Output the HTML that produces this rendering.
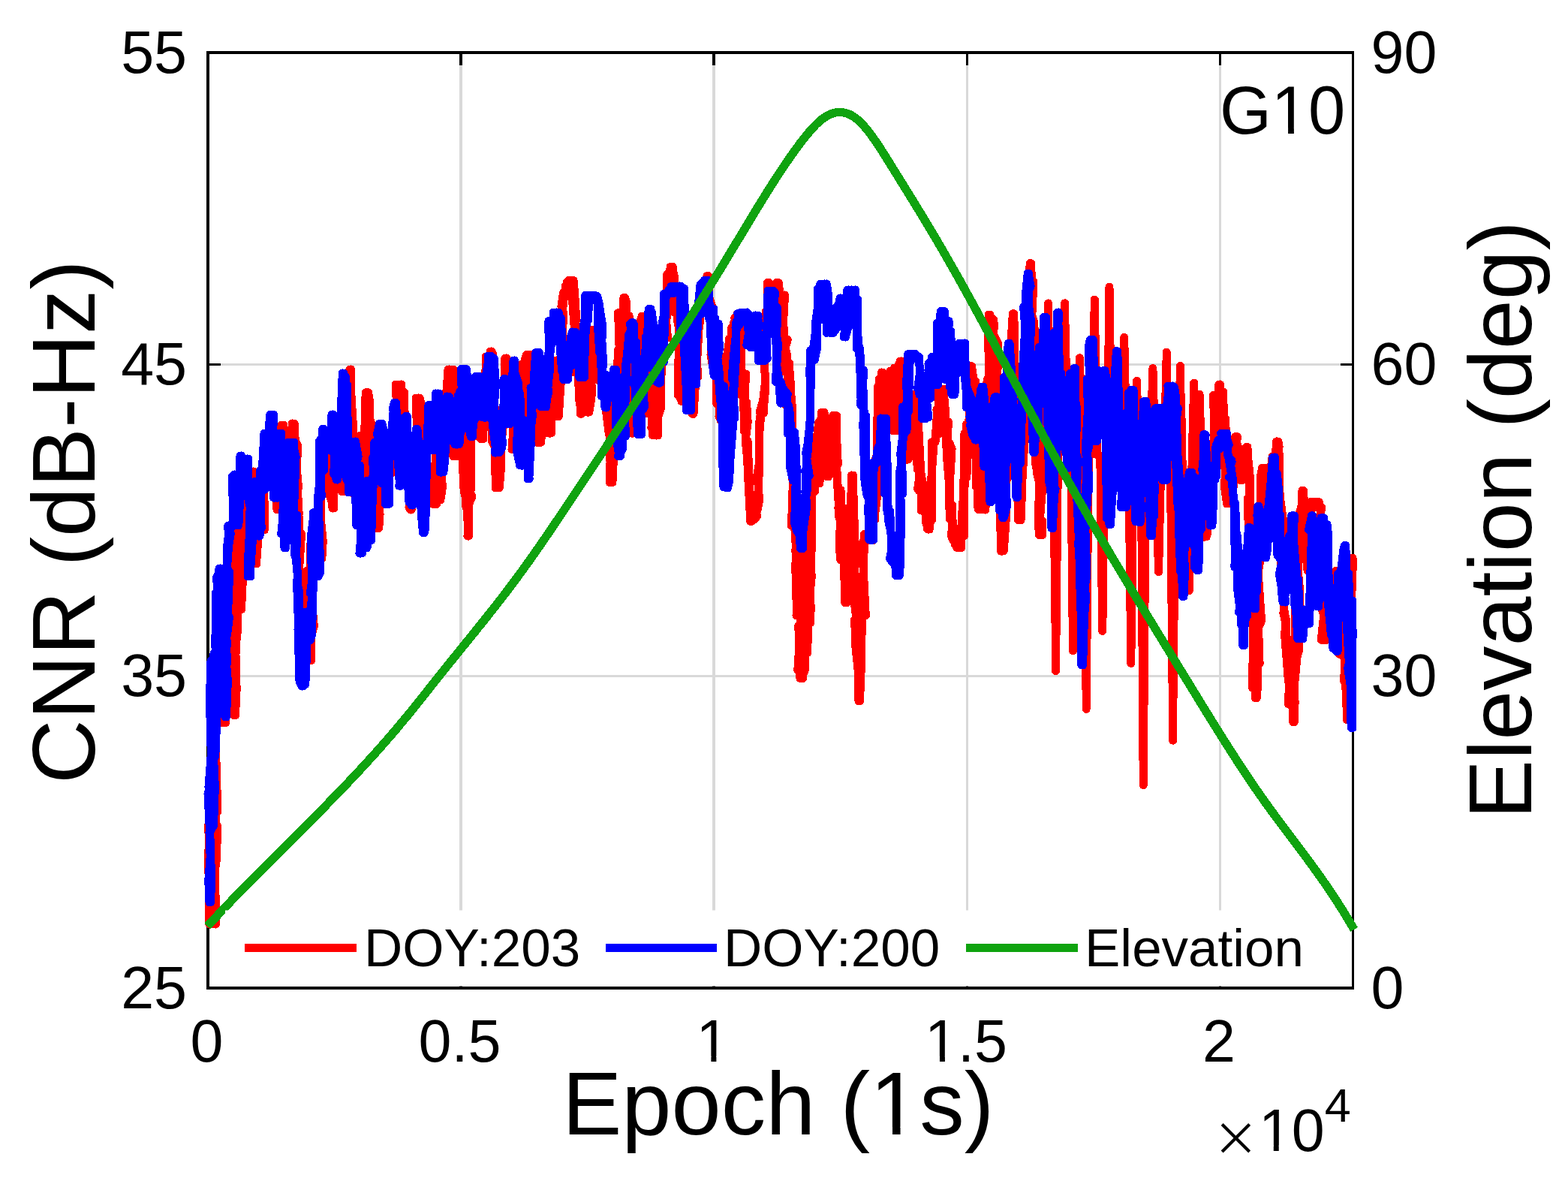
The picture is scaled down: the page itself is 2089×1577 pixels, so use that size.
<!DOCTYPE html>
<html><head><meta charset="utf-8"><title>CNR vs Epoch G10</title>
<style>
html,body{margin:0;padding:0;background:#fff;}
body{width:2089px;height:1577px;overflow:hidden;}
svg{display:block;}
text{font-family:'Liberation Sans', Arial, Helvetica, sans-serif;fill:#000;}
</style></head><body>
<svg width="2089" height="1577" viewBox="0 0 2089 1577">
<rect x="0" y="0" width="2089" height="1577" fill="#fff"/>

<g fill="#d9d9d9" shape-rendering="crispEdges">
<rect x="612" y="70.0" width="4" height="1246.0"/>
<rect x="949" y="70.0" width="4" height="1246.0"/>
<rect x="1287" y="70.0" width="3" height="1246.0"/>
<rect x="1624" y="70.0" width="3" height="1246.0"/>
<rect x="277.0" y="484" width="1525.5" height="3"/>
<rect x="277.0" y="899" width="1525.5" height="3"/>
</g>
<g fill="#000" shape-rendering="crispEdges">
<rect x="275" y="68" width="4" height="1250"/>
<rect x="1801" y="68" width="3" height="1250"/>
<rect x="275" y="68" width="1529" height="4"/>
<rect x="275" y="1314" width="1529" height="4"/>
<rect x="279" y="484" width="15" height="3"/>
<rect x="1786" y="484" width="15" height="3"/>
<rect x="279" y="899" width="15" height="3"/>
<rect x="1786" y="899" width="15" height="3"/>
<rect x="612" y="72" width="4" height="15"/>
<rect x="612" y="1299" width="4" height="15"/>
<rect x="949" y="72" width="4" height="15"/>
<rect x="949" y="1299" width="4" height="15"/>
<rect x="1287" y="72" width="3" height="15"/>
<rect x="1287" y="1299" width="3" height="15"/>
<rect x="1624" y="72" width="3" height="15"/>
<rect x="1624" y="1299" width="3" height="15"/>
</g>
<path d="M277.0,1100.0 L279.9,1127.4 L280.9,1110.4 L278.3,1156.4 L278.9,1231.0 L280.0,1231.0 L278.9,1208.4 L280.6,1201.6 L282.3,1136.3 L280.6,1105.9 L280.6,1060.5 L280.0,1043.2 L280.3,1082.3 L284.7,1025.6 L283.4,1056.3 L281.1,980.8 L284.6,922.1 L281.7,926.4 L283.0,900.0 L284.0,932.5 L285.3,960.5 L283.8,926.9 L281.3,997.0 L286.3,1044.0 L282.9,1063.7 L284.7,1118.3 L286.4,1105.0 L287.0,1087.6 L286.9,1174.3 L286.8,1153.9 L284.6,1187.9 L286.0,1231.0 L287.2,1224.0 L286.2,1208.6 L283.8,1128.2 L287.9,1142.2 L285.4,1138.1 L287.7,1038.4 L289.8,1081.5 L287.0,977.8 L286.8,1039.1 L284.6,976.6 L289.8,957.4 L289.3,939.6 L287.1,895.3 L288.0,860.0 L287.4,910.0 L287.4,942.5 L289.1,960.0 L292.0,960.0 L291.7,924.1 L290.9,931.1 L290.3,870.6 L293.2,829.1 L294.9,784.9 L295.5,796.0 L295.0,780.0 L295.3,818.7 L296.9,875.6 L295.8,895.0 L295.5,889.7 L296.3,963.0 L296.7,917.1 L299.0,963.0 L300.4,919.4 L297.6,934.4 L299.7,872.3 L300.2,881.0 L302.9,846.3 L300.5,836.1 L301.1,781.5 L302.0,760.0 L301.3,760.0 L302.5,790.5 L304.9,821.9 L306.6,900.0 L306.0,900.0 L307.4,896.9 L309.1,860.9 L307.1,847.4 L307.4,750.1 L305.7,741.1 L309.9,750.7 L309.7,709.6 L309.0,700.0 L308.1,727.0 L309.1,796.7 L312.0,751.7 L311.6,756.9 L309.9,789.7 L312.8,820.2 L313.9,864.1 L312.4,914.8 L311.1,929.1 L312.0,953.0 L313.6,921.5 L314.7,875.9 L312.0,906.2 L312.3,868.7 L313.3,812.8 L313.5,744.5 L312.5,831.9 L313.7,780.3 L316.6,693.2 L313.6,657.4 L314.0,705.0 L315.0,650.0 L316.3,708.1 L317.4,740.1 L319.1,714.8 L318.0,702.1 L319.1,773.6 L320.0,812.0 L319.6,750.1 L321.0,762.0 L323.1,760.4 L324.7,740.0 L323.2,677.7 L325.0,640.0 L324.9,666.7 L330.2,640.0 L330.2,678.5 L330.4,689.5 L331.0,700.0 L330.5,649.8 L333.9,676.7 L337.3,628.0 L336.0,628.0 L337.1,628.0 L339.3,647.5 L336.9,695.2 L340.0,751.0 L339.4,676.7 L342.7,662.2 L346.4,662.7 L345.0,640.0 L348.1,685.6 L349.9,684.6 L346.6,706.0 L350.7,706.0 L351.2,636.2 L353.9,602.3 L353.3,593.4 L356.0,590.0 L355.2,590.0 L359.3,598.1 L356.8,597.8 L361.7,597.0 L362.0,600.0 L362.8,600.0 L362.3,600.0 L365.7,625.0 L369.5,660.8 L369.0,679.0 L368.1,645.0 L368.9,677.1 L375.5,577.9 L373.0,631.5 L374.7,566.0 L376.5,566.0 L380.0,573.1 L376.7,596.9 L381.3,640.0 L382.0,640.0 L381.6,605.2 L382.3,612.1 L386.8,612.1 L389.3,564.0 L390.7,593.2 L390.2,564.0 L392.5,599.3 L389.7,578.3 L396.4,593.3 L395.0,650.0 L397.9,688.0 L398.2,682.2 L395.5,673.7 L398.6,723.7 L399.2,780.1 L400.0,800.0 L401.7,810.6 L402.2,858.9 L401.2,860.0 L405.0,860.0 L406.3,824.3 L405.5,821.8 L410.5,775.6 L409.0,760.0 L410.5,806.4 L408.3,769.6 L409.9,818.2 L413.0,880.0 L411.7,880.0 L411.8,812.7 L412.4,819.4 L413.3,726.2 L417.0,724.5 L416.3,750.6 L418.0,700.0 L421.3,702.6 L418.6,749.6 L424.2,766.0 L423.7,766.0 L425.3,709.6 L424.3,674.9 L427.0,682.3 L428.1,652.9 L430.2,602.1 L430.0,600.0 L433.5,594.8 L431.6,596.3 L434.1,590.0 L436.2,590.2 L437.0,590.0 L436.0,607.3 L436.9,653.5 L442.8,670.5 L443.0,677.0 L443.5,677.0 L444.5,611.2 L447.0,611.6 L448.6,576.5 L449.0,560.0 L449.6,560.0 L451.2,602.0 L455.8,581.7 L456.0,651.0 L455.7,655.0 L458.8,615.9 L460.3,641.9 L458.1,544.3 L459.7,543.7 L460.0,530.0 L459.2,513.5 L463.2,513.8 L466.5,502.3 L463.8,496.3 L466.0,492.0 L467.2,545.8 L467.3,521.7 L472.7,629.4 L469.9,622.1 L470.9,658.0 L474.1,646.8 L475.2,689.5 L476.0,668.1 L476.1,689.5 L476.2,657.3 L478.5,580.7 L482.8,671.7 L480.0,641.9 L483.6,604.8 L486.5,558.4 L486.6,535.0 L487.4,522.9 L489.0,522.7 L489.1,543.0 L491.0,536.7 L494.4,573.7 L494.2,611.9 L493.2,656.7 L495.6,584.5 L497.7,606.4 L496.7,674.6 L500.0,699.7 L501.0,703.5 L503.7,687.4 L502.0,703.5 L507.2,635.3 L507.4,622.8 L506.3,627.0 L510.9,639.9 L507.7,600.0 L510.4,624.8 L512.0,600.0 L514.8,600.0 L515.5,600.0 L517.2,624.5 L518.1,618.7 L516.6,624.9 L521.0,621.7 L522.8,629.0 L519.6,629.0 L522.7,623.7 L524.0,629.0 L525.0,629.0 L523.7,568.9 L529.5,554.9 L527.1,512.0 L530.6,524.0 L533.3,518.0 L533.0,512.0 L534.5,512.0 L537.6,568.4 L534.6,601.3 L539.1,607.2 L536.4,578.7 L542.0,563.9 L540.7,569.2 L544.5,604.8 L542.3,635.4 L545.0,655.7 L546.8,679.0 L547.4,676.7 L549.7,663.5 L552.2,668.9 L552.0,593.6 L555.7,582.5 L554.3,530.0 L555.8,551.3 L557.4,530.0 L558.7,546.8 L561.1,545.2 L562.0,548.6 L560.5,595.3 L566.7,570.8 L568.2,620.0 L567.9,582.8 L568.0,620.0 L570.6,638.4 L571.3,640.1 L572.1,647.4 L572.9,656.3 L571.7,630.9 L576.8,671.5 L578.5,638.5 L578.4,652.1 L578.0,662.0 L580.2,671.5 L579.8,635.2 L580.2,599.8 L585.9,585.3 L582.9,617.7 L586.6,604.5 L585.9,587.5 L590.2,569.4 L590.0,560.0 L591.4,539.6 L591.2,560.0 L594.1,534.8 L594.9,522.3 L597.0,492.0 L597.8,506.2 L601.5,549.6 L603.5,541.4 L603.9,564.2 L601.7,594.0 L603.7,607.6 L603.6,572.6 L605.9,607.6 L607.0,607.6 L609.2,607.6 L610.0,588.5 L609.3,570.4 L616.1,585.0 L615.0,560.0 L614.8,561.3 L615.1,593.4 L618.2,654.7 L622.7,670.0 L623.5,714.0 L622.9,714.0 L624.5,714.0 L622.5,662.9 L626.6,590.1 L627.2,653.3 L627.5,560.0 L630.0,560.0 L630.0,567.4 L631.3,560.0 L635.7,571.5 L635.5,562.5 L635.8,574.6 L639.2,578.9 L638.5,571.6 L639.8,574.7 L641.0,584.7 L643.9,584.7 L642.4,559.1 L643.9,558.7 L646.1,494.7 L649.5,560.2 L647.6,568.7 L647.3,474.9 L652.4,485.3 L653.2,468.0 L653.3,468.0 L653.5,506.7 L657.7,528.3 L655.2,587.3 L660.2,597.0 L658.6,551.5 L660.3,650.0 L663.2,611.4 L663.7,650.0 L664.9,595.4 L666.6,583.8 L668.4,588.0 L671.2,543.2 L672.8,566.0 L672.5,497.3 L672.8,477.0 L673.3,483.7 L677.4,513.3 L675.3,545.6 L679.4,489.3 L681.2,556.3 L682.4,501.8 L680.2,546.4 L685.7,547.1 L682.0,598.5 L686.0,575.9 L686.5,598.5 L686.4,560.3 L690.7,536.9 L689.3,548.4 L690.5,591.1 L692.1,574.1 L693.5,511.6 L692.9,485.8 L698.9,558.3 L699.0,499.6 L698.8,525.8 L701.3,495.6 L701.8,472.5 L701.9,472.5 L705.3,516.2 L707.5,472.5 L705.7,549.0 L705.6,507.5 L706.9,530.0 L711.2,551.7 L709.1,566.7 L714.1,579.0 L714.5,557.2 L715.4,589.3 L715.2,589.3 L720.9,589.3 L721.6,562.6 L721.5,520.4 L722.0,520.0 L721.4,545.6 L722.9,555.3 L726.6,562.3 L726.4,570.5 L730.8,557.8 L728.0,551.3 L730.7,577.0 L734.4,577.0 L736.2,494.8 L736.9,483.0 L736.0,480.0 L735.0,520.7 L737.7,480.0 L741.8,555.0 L743.2,532.8 L742.8,555.0 L743.4,510.3 L748.1,463.5 L746.4,508.3 L750.7,417.2 L747.9,408.3 L750.5,390.0 L752.4,387.4 L750.9,390.0 L755.2,390.0 L757.4,373.5 L758.6,390.0 L757.6,373.5 L761.3,380.5 L758.0,376.9 L762.9,380.7 L762.6,373.5 L762.2,394.7 L766.7,455.9 L763.7,495.8 L766.7,454.8 L770.7,438.3 L768.0,489.1 L773.1,501.5 L773.3,551.3 L773.2,539.9 L774.2,527.7 L778.0,500.0 L780.4,525.4 L781.0,506.9 L782.4,549.0 L784.8,549.0 L787.2,534.4 L788.7,521.6 L784.7,467.0 L787.8,439.6 L790.0,439.6 L789.5,439.6 L791.0,458.8 L795.2,454.6 L797.2,494.0 L797.3,479.4 L797.6,494.0 L797.4,506.7 L801.3,494.0 L800.0,499.6 L800.3,507.2 L802.5,514.2 L806.0,520.0 L806.1,520.0 L806.6,540.7 L811.3,577.9 L814.2,582.7 L812.1,642.6 L814.4,642.6 L816.9,577.7 L815.9,564.4 L821.2,580.7 L819.3,523.9 L821.6,535.1 L822.0,500.0 L823.7,465.1 L825.5,474.9 L823.6,416.6 L829.1,488.9 L831.0,459.2 L829.3,443.4 L831.0,396.4 L832.7,428.7 L834.4,434.9 L836.9,424.5 L833.9,451.1 L838.1,420.8 L841.3,463.2 L838.7,475.3 L841.2,577.0 L843.6,577.0 L842.6,536.7 L844.8,577.0 L847.6,549.0 L847.2,519.4 L847.6,516.2 L847.3,532.8 L853.3,447.2 L852.7,473.0 L852.5,430.7 L855.2,421.0 L857.9,431.7 L858.1,456.0 L861.2,515.7 L863.0,532.9 L860.4,507.0 L861.9,515.6 L861.9,550.4 L867.4,522.6 L867.2,535.2 L866.9,517.7 L869.6,580.0 L870.4,580.0 L871.7,556.1 L874.5,580.0 L873.0,575.4 L876.4,491.3 L877.2,511.0 L877.0,459.7 L878.7,505.4 L879.1,482.5 L882.0,450.0 L882.3,450.0 L886.7,429.4 L884.2,398.6 L889.5,450.0 L885.8,405.7 L888.2,402.9 L893.6,357.0 L892.0,383.6 L893.1,355.3 L894.8,355.3 L895.1,384.3 L897.8,365.1 L898.7,371.2 L898.3,416.2 L901.1,407.9 L902.0,420.0 L902.1,427.6 L905.1,420.0 L903.1,525.8 L910.1,534.5 L910.8,519.0 L910.0,534.5 L911.4,533.4 L912.2,510.6 L912.0,512.2 L914.8,501.2 L916.0,480.0 L919.5,504.8 L917.9,489.3 L917.0,506.6 L921.6,544.4 L922.2,551.3 L924.0,551.3 L927.2,498.7 L924.9,433.9 L925.4,500.0 L930.3,437.9 L930.0,430.0 L930.3,418.2 L930.3,430.0 L932.5,430.0 L934.7,386.2 L938.8,397.7 L937.0,408.7 L937.3,390.1 L939.0,406.1 L941.3,387.6 L942.0,367.5 L942.8,415.5 L943.9,391.5 L948.7,456.2 L947.0,472.5 L950.0,489.8 L948.1,469.8 L952.1,464.6 L952.6,501.0 L954.1,501.0 L956.0,539.3 L954.8,537.2 L954.7,517.1 L957.6,529.2 L960.0,560.0 L960.9,552.4 L961.4,512.8 L965.4,523.5 L962.1,531.4 L964.2,503.7 L969.6,528.7 L969.7,488.3 L970.8,483.4 L970.9,461.8 L971.2,451.5 L975.6,461.8 L974.9,435.8 L975.0,446.4 L974.7,451.8 L977.7,429.4 L980.5,452.6 L983.1,435.2 L982.1,418.0 L983.0,418.0 L983.3,418.0 L987.0,477.2 L987.3,496.4 L990.9,537.3 L991.3,574.5 L992.4,537.6 L994.5,535.4 L996.2,562.1 L993.2,586.0 L995.8,613.0 L996.2,626.4 L999.8,694.4 L999.8,694.4 L1000.8,686.5 L1004.3,687.9 L1003.0,690.6 L1005.5,690.9 L1007.5,680.0 L1007.4,680.0 L1010.8,646.2 L1007.6,639.2 L1011.3,618.3 L1012.0,560.0 L1013.1,552.6 L1012.4,547.8 L1016.6,534.0 L1019.6,508.1 L1016.4,446.7 L1019.7,444.7 L1020.5,414.4 L1022.9,418.3 L1022.6,376.5 L1023.3,376.5 L1022.3,386.8 L1027.3,395.0 L1027.5,391.0 L1029.0,395.0 L1028.2,384.0 L1034.2,392.1 L1030.1,391.1 L1034.4,376.5 L1035.7,376.5 L1037.2,392.2 L1039.8,430.5 L1038.5,462.0 L1043.5,419.5 L1039.2,458.5 L1043.7,494.9 L1043.3,422.1 L1046.4,479.1 L1048.2,471.1 L1050.8,497.2 L1047.3,540.0 L1051.8,484.3 L1052.9,534.2 L1052.8,540.0 L1051.9,560.9 L1055.5,540.0 L1055.3,570.9 L1056.4,654.2 L1054.3,700.0 L1056.0,700.0 L1058.2,671.9 L1054.9,622.9 L1058.0,620.0 L1060.0,620.0 L1057.0,702.4 L1060.0,637.9 L1057.9,699.0 L1059.7,709.5 L1062.8,752.3 L1062.2,800.0 L1061.0,820.0 L1063.8,820.0 L1062.5,759.8 L1059.8,733.8 L1063.0,700.0 L1062.0,759.0 L1064.8,756.9 L1064.4,810.1 L1066.5,818.2 L1065.9,844.1 L1062.8,892.3 L1063.8,879.5 L1066.0,903.5 L1063.8,833.5 L1066.0,885.0 L1069.1,813.2 L1068.0,780.0 L1070.9,828.8 L1070.2,836.4 L1067.3,895.0 L1070.0,895.0 L1068.3,865.0 L1069.7,847.7 L1071.0,854.2 L1073.5,760.0 L1072.0,760.0 L1069.8,780.0 L1072.3,790.2 L1071.4,794.3 L1074.0,870.0 L1073.6,823.5 L1073.5,806.0 L1074.8,763.8 L1076.8,739.2 L1073.5,753.4 L1076.0,700.0 L1074.4,700.0 L1075.9,734.6 L1078.6,807.4 L1078.5,830.0 L1078.0,830.0 L1080.6,810.2 L1078.0,790.1 L1076.2,722.0 L1080.8,769.1 L1081.4,677.4 L1080.0,660.0 L1081.4,660.0 L1083.2,654.0 L1085.7,654.0 L1085.3,630.6 L1084.5,590.1 L1086.3,601.4 L1090.7,562.4 L1091.6,644.0 L1093.9,629.1 L1093.0,592.7 L1094.1,556.9 L1094.2,549.4 L1096.5,549.4 L1098.8,570.4 L1100.8,599.5 L1097.9,600.3 L1102.2,635.0 L1102.5,603.6 L1104.1,612.0 L1104.3,606.9 L1104.3,577.7 L1110.2,578.2 L1109.8,553.0 L1112.4,597.4 L1114.9,553.7 L1111.5,611.2 L1112.0,574.2 L1116.6,656.0 L1117.9,689.4 L1116.9,676.1 L1119.4,692.0 L1118.4,729.5 L1119.9,746.1 L1125.6,710.6 L1125.8,802.6 L1125.6,762.1 L1127.0,802.6 L1126.5,760.6 L1126.9,715.0 L1129.2,773.5 L1130.5,676.2 L1133.6,674.8 L1134.6,633.0 L1133.4,682.1 L1136.8,653.0 L1139.0,724.3 L1137.1,693.2 L1138.7,758.8 L1140.5,785.5 L1140.3,825.0 L1138.7,825.0 L1139.7,859.7 L1143.5,895.9 L1144.0,934.0 L1144.8,874.8 L1146.3,884.5 L1148.5,794.9 L1146.6,848.7 L1150.2,791.2 L1148.3,804.2 L1150.4,759.2 L1151.7,711.0 L1154.6,717.3 L1153.6,711.3 L1158.5,714.6 L1157.4,711.0 L1159.8,719.8 L1160.3,713.9 L1161.2,720.0 L1161.9,696.5 L1161.7,720.0 L1163.1,683.4 L1166.0,691.4 L1165.7,612.7 L1170.6,601.8 L1170.6,527.0 L1169.2,515.7 L1170.0,569.9 L1171.9,530.9 L1174.5,496.0 L1176.6,512.6 L1179.1,504.8 L1178.5,526.6 L1180.0,560.0 L1183.0,526.9 L1181.5,510.2 L1186.7,494.0 L1185.9,494.0 L1186.1,494.0 L1187.4,559.1 L1189.7,574.0 L1190.5,566.9 L1190.4,574.0 L1191.4,490.0 L1195.7,523.1 L1199.2,538.2 L1199.2,488.0 L1199.2,481.0 L1200.0,492.0 L1204.1,481.0 L1204.2,517.8 L1207.6,557.9 L1206.3,545.7 L1206.1,612.0 L1208.7,612.0 L1210.2,612.0 L1214.0,548.8 L1212.4,560.9 L1216.6,578.5 L1213.4,525.0 L1216.3,525.0 L1218.2,558.2 L1219.6,551.4 L1222.2,625.4 L1223.8,597.0 L1224.3,653.7 L1224.3,576.0 L1227.2,648.3 L1226.8,654.1 L1227.7,669.0 L1227.3,680.1 L1227.5,669.0 L1230.1,669.0 L1233.4,671.3 L1233.9,697.6 L1235.5,686.2 L1236.7,705.0 L1235.4,646.4 L1241.6,691.9 L1241.3,588.7 L1242.0,588.7 L1242.8,588.7 L1244.3,586.6 L1245.8,588.7 L1249.1,543.6 L1247.9,546.0 L1250.7,548.5 L1249.3,518.0 L1251.9,535.1 L1251.6,556.7 L1254.4,518.9 L1255.0,518.0 L1256.6,523.8 L1258.0,552.0 L1259.6,556.9 L1261.4,593.6 L1260.1,594.1 L1263.5,561.9 L1261.1,603.5 L1264.0,638.1 L1265.3,691.2 L1268.9,673.3 L1267.8,714.7 L1270.2,720.0 L1273.3,722.3 L1274.9,729.5 L1276.9,720.5 L1274.9,720.5 L1277.2,720.4 L1278.9,729.5 L1279.4,729.5 L1282.2,676.7 L1283.0,667.7 L1284.8,713.6 L1284.6,644.3 L1284.9,577.6 L1287.9,635.7 L1289.1,594.9 L1292.2,536.0 L1289.0,516.3 L1290.7,520.2 L1293.0,487.7 L1294.6,553.0 L1292.8,496.1 L1294.2,579.5 L1297.7,541.3 L1301.5,614.7 L1302.4,617.2 L1302.2,674.0 L1305.0,674.0 L1302.1,674.0 L1304.4,675.3 L1309.3,676.6 L1306.2,679.0 L1309.2,676.2 L1311.3,679.0 L1311.8,631.5 L1311.0,582.8 L1312.9,549.7 L1311.7,626.9 L1313.2,594.7 L1317.0,552.2 L1316.9,509.4 L1318.4,484.1 L1316.5,463.4 L1317.4,419.0 L1317.1,419.0 L1318.3,430.4 L1323.5,425.5 L1322.7,448.4 L1323.8,451.8 L1325.0,451.8 L1326.6,470.8 L1325.6,513.3 L1328.3,507.5 L1331.4,521.2 L1332.1,526.3 L1331.5,662.4 L1333.7,597.4 L1334.0,650.2 L1332.4,666.1 L1333.4,734.0 L1335.7,734.0 L1337.7,681.3 L1337.1,705.8 L1340.2,640.8 L1341.2,640.3 L1344.3,594.6 L1343.3,534.3 L1342.7,514.8 L1346.8,499.2 L1345.0,505.7 L1346.9,473.6 L1347.5,446.7 L1349.4,417.7 L1350.1,434.8 L1348.7,428.6 L1350.1,503.7 L1349.9,553.4 L1354.3,510.1 L1353.9,524.3 L1353.8,569.0 L1358.9,586.7 L1355.0,625.9 L1356.6,692.8 L1358.5,692.8 L1360.0,680.0 L1361.8,658.7 L1359.1,579.5 L1362.4,579.4 L1365.6,530.1 L1364.8,488.8 L1362.9,512.0 L1366.1,519.0 L1365.9,451.0 L1368.8,418.8 L1368.1,412.0 L1371.1,372.9 L1372.2,350.7 L1373.3,401.4 L1373.7,417.5 L1377.3,427.6 L1378.6,444.1 L1379.1,492.9 L1379.4,514.9 L1377.6,569.7 L1381.8,537.3 L1381.7,563.2 L1380.8,571.1 L1380.6,622.5 L1384.6,639.6 L1383.4,696.0 L1384.4,712.6 L1387.1,700.9 L1384.8,698.2 L1390.7,625.6 L1390.2,648.9 L1388.8,589.1 L1391.6,589.1 L1393.6,589.1 L1394.0,563.7 L1394.5,540.5 L1394.9,510.1 L1395.3,472.4 L1395.7,462.6 L1396.2,436.4 L1396.6,404.0 L1397.0,435.6 L1397.5,455.1 L1397.9,485.1 L1398.3,498.8 L1398.7,536.9 L1399.2,557.2 L1399.6,589.1 L1400.9,591.6 L1402.3,590.8 L1403.6,591.6 L1403.8,621.8 L1404.1,650.9 L1404.3,674.5 L1404.6,700.1 L1404.8,715.7 L1405.1,754.5 L1405.3,757.6 L1405.6,796.5 L1405.8,811.5 L1406.1,837.2 L1406.3,874.4 L1406.6,893.6 L1406.8,872.6 L1407.1,836.1 L1407.3,824.8 L1407.6,785.2 L1407.8,769.1 L1408.1,737.7 L1408.3,711.5 L1408.6,688.0 L1408.8,677.9 L1409.1,639.9 L1409.3,613.1 L1409.6,591.6 L1410.8,591.6 L1412.0,593.6 L1413.3,594.2 L1414.5,594.7 L1415.7,594.7 L1416.1,561.2 L1416.6,537.9 L1417.0,509.5 L1417.4,480.6 L1417.8,466.6 L1418.3,436.0 L1418.7,403.8 L1419.1,438.9 L1419.6,462.2 L1420.0,475.6 L1420.4,502.0 L1420.8,541.0 L1421.3,562.1 L1421.7,594.7 L1423.3,596.1 L1424.9,596.7 L1426.5,597.4 L1426.8,626.9 L1427.1,651.5 L1427.4,687.7 L1427.7,706.4 L1428.0,723.5 L1428.3,764.7 L1428.6,785.8 L1428.9,814.0 L1429.2,834.1 L1429.5,867.0 L1429.8,838.6 L1430.1,817.1 L1430.4,778.0 L1430.7,769.8 L1431.0,734.8 L1431.3,710.1 L1431.6,688.3 L1431.9,644.0 L1432.2,622.1 L1432.5,597.4 L1434.0,599.6 L1435.5,599.6 L1436.2,570.7 L1437.0,547.0 L1437.8,507.3 L1438.5,476.8 L1439.2,506.5 L1440.0,534.6 L1440.8,563.9 L1441.5,599.6 L1442.8,601.8 L1444.2,601.8 L1444.4,627.8 L1444.7,647.1 L1444.9,690.8 L1445.1,711.9 L1445.4,741.1 L1445.6,752.6 L1445.8,782.4 L1446.0,815.1 L1446.3,843.2 L1446.5,855.3 L1446.7,897.2 L1447.0,918.6 L1447.2,944.4 L1447.4,917.8 L1447.7,893.0 L1447.9,856.4 L1448.1,846.4 L1448.4,819.5 L1448.6,776.8 L1448.8,766.2 L1449.0,738.8 L1449.3,707.4 L1449.5,682.8 L1449.7,654.0 L1450.0,633.5 L1450.2,601.8 L1451.5,601.8 L1452.8,603.2 L1454.0,603.9 L1455.3,604.6 L1455.7,584.7 L1456.0,554.3 L1456.4,536.4 L1456.8,497.1 L1457.2,482.6 L1457.5,451.2 L1457.9,421.4 L1458.3,399.0 L1458.7,429.3 L1459.0,445.5 L1459.4,466.7 L1459.8,500.2 L1460.2,525.2 L1460.5,545.6 L1460.9,580.7 L1461.3,604.6 L1462.8,607.0 L1464.3,606.5 L1465.8,607.2 L1466.1,631.5 L1466.5,666.8 L1466.8,694.8 L1467.1,702.0 L1467.5,738.8 L1467.8,763.1 L1468.1,789.9 L1468.5,814.5 L1468.8,840.4 L1469.1,816.4 L1469.5,793.0 L1469.8,762.6 L1470.1,736.6 L1470.5,717.8 L1470.8,676.8 L1471.1,652.0 L1471.5,626.0 L1471.8,607.2 L1473.4,608.0 L1475.0,609.5 L1475.3,590.6 L1475.7,555.8 L1476.0,528.0 L1476.3,516.6 L1476.7,484.5 L1477.0,460.7 L1477.3,428.6 L1477.7,403.7 L1478.0,382.0 L1478.3,403.3 L1478.7,436.9 L1479.0,458.3 L1479.3,475.2 L1479.7,513.4 L1480.0,534.4 L1480.3,554.6 L1480.7,584.1 L1481.0,609.5 L1482.3,609.5 L1483.7,612.0 L1485.0,612.0 L1486.5,635.0 L1488.0,650.0 L1489.5,631.9 L1491.0,612.0 L1492.3,614.5 L1493.5,613.8 L1494.8,614.5 L1495.3,591.1 L1495.8,556.2 L1496.3,520.0 L1496.8,499.1 L1497.3,472.2 L1497.8,449.4 L1498.3,483.4 L1498.8,492.9 L1499.3,536.3 L1499.8,551.3 L1500.3,582.4 L1500.8,614.5 L1502.3,614.5 L1503.8,616.7 L1504.1,645.6 L1504.4,663.8 L1504.7,695.7 L1505.0,723.3 L1505.3,757.8 L1505.6,787.4 L1505.9,804.7 L1506.2,827.2 L1506.5,862.5 L1506.8,883.5 L1507.1,855.8 L1507.4,829.4 L1507.7,800.6 L1508.0,786.7 L1508.3,748.6 L1508.6,714.1 L1508.9,697.3 L1509.2,667.3 L1509.5,638.1 L1509.8,616.7 L1511.6,618.6 L1512.3,582.9 L1513.1,556.0 L1513.8,542.0 L1514.6,507.3 L1515.3,540.0 L1516.1,555.0 L1516.8,582.5 L1517.6,618.6 L1518.9,618.6 L1520.3,620.8 L1520.5,646.5 L1520.7,667.7 L1520.9,705.9 L1521.0,721.1 L1521.2,754.0 L1521.4,790.0 L1521.6,797.6 L1521.8,828.3 L1522.0,861.4 L1522.2,877.8 L1522.4,924.4 L1522.5,929.3 L1522.7,974.6 L1522.9,1000.2 L1523.1,1022.6 L1523.3,1045.8 L1523.5,1023.9 L1523.7,990.0 L1523.9,966.3 L1524.0,941.6 L1524.2,901.8 L1524.4,874.7 L1524.6,854.2 L1524.8,845.1 L1525.0,808.1 L1525.2,772.1 L1525.4,758.5 L1525.5,720.7 L1525.7,698.4 L1525.9,670.5 L1526.1,646.4 L1526.3,620.8 L1527.6,620.8 L1528.9,620.8 L1530.3,623.4 L1531.6,623.6 L1532.9,624.0 L1533.5,597.8 L1534.1,577.1 L1534.7,533.9 L1535.3,507.8 L1535.9,490.5 L1536.5,508.0 L1537.1,536.3 L1537.7,580.4 L1538.3,604.4 L1538.9,624.0 L1540.6,625.9 L1541.2,661.0 L1541.8,675.6 L1542.4,712.0 L1543.0,741.6 L1543.6,761.7 L1544.2,732.9 L1544.8,712.3 L1545.4,670.2 L1546.0,654.1 L1546.6,625.9 L1548.1,627.1 L1549.7,627.9 L1551.2,628.5 L1551.7,609.7 L1552.2,586.6 L1552.7,542.9 L1553.2,510.8 L1553.7,500.2 L1554.2,469.0 L1554.7,490.2 L1555.2,529.6 L1555.7,559.4 L1556.2,569.5 L1556.7,597.8 L1557.2,628.5 L1559.6,630.6 L1559.8,654.6 L1560.0,683.4 L1560.2,705.8 L1560.5,725.8 L1560.7,762.4 L1560.9,788.6 L1561.1,815.8 L1561.3,844.7 L1561.5,858.2 L1561.7,872.9 L1562.0,910.0 L1562.2,927.7 L1562.4,958.3 L1562.6,986.2 L1562.8,957.5 L1563.0,931.9 L1563.2,917.9 L1563.5,896.2 L1563.7,862.0 L1563.9,841.1 L1564.1,816.2 L1564.3,788.8 L1564.5,755.2 L1564.7,725.8 L1565.0,706.3 L1565.2,677.5 L1565.4,656.6 L1565.6,630.6 L1566.9,631.1 L1568.1,633.1 L1569.4,633.1 L1570.0,613.1 L1570.6,581.8 L1571.2,545.9 L1571.8,520.0 L1572.4,487.5 L1573.0,524.3 L1573.6,535.5 L1574.2,566.7 L1574.8,602.6 L1575.4,633.1 L1576.9,633.1 L1578.3,633.1 L1579.8,635.7 L1581.2,636.0 L1581.7,659.1 L1582.2,682.4 L1582.7,709.4 L1583.2,738.0 L1583.7,765.1 L1584.2,787.0 L1584.7,768.9 L1585.2,733.3 L1585.7,719.9 L1586.2,681.6 L1586.7,660.7 L1587.2,636.0 L1587.7,637.7 L1588.3,604.5 L1588.9,582.4 L1589.5,556.2 L1590.1,535.2 L1590.7,510.0 L1591.3,541.5 L1591.9,567.7 L1592.5,594.4 L1593.1,605.6 L1593.7,637.7 L1595.0,639.5 L1595.8,611.5 L1596.5,593.1 L1597.2,556.2 L1598.0,525.0 L1598.8,544.5 L1599.5,581.1 L1600.2,601.4 L1601.0,639.5 L1601.0,673.9 L1603.4,715.0 L1605.7,715.0 L1606.3,715.0 L1609.2,693.1 L1608.6,710.4 L1611.5,627.4 L1609.0,663.9 L1615.6,645.8 L1615.0,590.3 L1614.7,655.9 L1619.0,630.8 L1616.6,526.4 L1621.5,536.4 L1618.4,562.6 L1620.6,529.8 L1623.7,551.7 L1623.9,512.0 L1623.7,558.3 L1626.2,538.5 L1630.2,550.7 L1630.8,586.2 L1630.0,621.1 L1634.0,585.1 L1631.6,649.7 L1634.6,671.0 L1634.3,661.0 L1639.0,639.7 L1637.2,630.5 L1639.9,618.0 L1639.9,626.3 L1641.7,648.6 L1642.5,638.4 L1642.6,588.6 L1645.7,581.8 L1646.7,581.8 L1646.2,586.2 L1650.5,606.7 L1647.6,624.6 L1652.6,621.8 L1653.0,640.0 L1654.0,628.8 L1653.4,639.1 L1658.3,601.9 L1655.9,630.5 L1660.6,595.5 L1660.4,595.5 L1660.6,625.1 L1662.5,608.4 L1665.4,635.4 L1665.6,746.2 L1663.9,781.2 L1666.9,704.9 L1668.1,745.4 L1667.0,751.0 L1671.5,845.7 L1669.5,808.3 L1668.8,916.5 L1672.4,901.7 L1672.6,930.0 L1674.4,903.2 L1673.2,870.2 L1674.8,800.1 L1678.1,884.3 L1673.6,743.2 L1679.3,724.4 L1676.6,734.9 L1677.7,754.0 L1680.6,686.6 L1678.7,709.2 L1680.0,630.9 L1681.7,623.0 L1683.3,664.0 L1682.5,678.4 L1684.4,695.5 L1685.3,686.5 L1689.8,689.9 L1691.5,681.6 L1690.9,715.0 L1693.0,715.0 L1692.3,711.7 L1693.8,619.3 L1695.2,608.1 L1695.6,667.2 L1700.6,588.0 L1699.8,636.4 L1701.5,588.0 L1704.1,594.6 L1703.1,594.5 L1706.5,703.7 L1706.1,725.1 L1706.3,744.8 L1710.4,790.5 L1711.2,820.4 L1709.9,816.5 L1712.2,827.0 L1711.9,849.1 L1716.5,907.5 L1718.2,881.7 L1716.6,938.0 L1716.6,931.8 L1721.7,877.7 L1721.1,923.9 L1722.8,962.0 L1725.2,935.7 L1725.1,935.3 L1724.4,919.4 L1725.4,810.2 L1726.9,844.7 L1729.2,865.3 L1731.4,790.0 L1729.0,758.0 L1731.7,697.0 L1731.6,682.7 L1734.9,671.1 L1735.0,653.3 L1735.2,706.5 L1735.0,664.5 L1738.4,666.3 L1740.6,711.9 L1742.0,760.0 L1744.0,705.5 L1747.1,719.4 L1743.7,718.0 L1747.2,668.5 L1748.0,669.7 L1750.1,668.5 L1749.0,675.0 L1750.7,668.5 L1752.4,671.6 L1753.8,675.0 L1755.1,675.0 L1757.8,675.0 L1760.4,675.0 L1760.6,675.3 L1757.7,701.9 L1762.4,791.0 L1764.1,815.4 L1760.3,852.3 L1762.4,852.3 L1763.6,851.2 L1766.0,847.0 L1767.7,852.3 L1766.2,852.3 L1767.0,849.4 L1772.0,850.1 L1771.5,847.0 L1772.8,834.5 L1776.3,842.7 L1776.7,774.5 L1774.6,831.4 L1777.4,767.2 L1778.6,778.1 L1780.0,760.0 L1780.8,779.5 L1781.4,780.4 L1786.3,820.0 L1784.2,871.2 L1786.9,781.0 L1789.9,874.5 L1788.1,873.4 L1789.8,874.5 L1791.1,874.5 L1794.1,943.7 L1794.3,958.8 L1796.4,944.0 L1796.3,861.4 L1797.2,872.2 L1798.8,846.9 L1796.2,777.5 L1800.6,789.9 L1801.1,764.3 L1802.0,743.0 M278.5,1100.0 L279.1,1100.0 L277.0,1161.0 L282.9,1148.7 L279.0,1174.1 L281.5,1231.0 L282.1,1224.0 L282.0,1172.1 L281.0,1167.2 L284.2,1098.4 L282.7,1118.2 L283.2,1105.2 L281.3,1093.6 L283.2,1031.9 L284.1,989.4 L285.5,955.9 L282.4,973.4 L283.6,924.1 L284.5,900.0 L285.9,908.3 L283.4,946.6 L283.6,989.8 L283.7,1036.0 L283.9,987.6 L285.7,1039.7 L287.3,1112.8 L283.4,1090.0 L289.6,1100.2 L287.9,1151.5 L285.0,1152.8 L287.5,1219.8 L287.5,1231.0 L287.1,1196.9 L286.4,1153.9 L289.7,1116.2 L285.8,1122.1 L286.4,1118.8 L288.9,1034.8 L285.7,1079.1 L286.8,1044.9 L285.9,957.9 L290.3,948.4 L290.9,939.0 L288.4,896.4 L290.7,876.9 L289.5,860.0 L289.6,914.7 L290.4,905.5 L289.9,951.6 L293.5,960.0 L293.5,908.9 L296.4,886.9 L295.1,903.4 L296.4,870.9 L298.2,855.3 L296.6,785.2 L296.5,780.0 L296.8,785.2 L300.0,856.6 L295.4,880.5 L296.8,872.6 L297.2,953.1 L299.3,921.9 L300.5,963.0 L302.3,913.8 L299.3,923.3 L299.1,886.7 L300.4,870.9 L300.1,796.9 L303.5,815.2 L303.7,775.9 L303.5,760.0 L302.4,777.4 L304.5,800.3 L303.6,879.1 L307.0,842.5 L307.5,900.0 L309.4,900.0 L305.8,866.2 L309.7,851.0 L308.8,769.7 L311.2,736.7 L311.5,767.7 L309.2,739.1 L310.5,700.0 L310.0,739.1 L310.5,724.7 L310.1,775.7 L312.3,810.2 L312.7,804.4 L313.7,839.7 L314.4,859.3 L313.2,896.3 L313.3,936.0 L313.5,953.0 L315.2,917.3 L313.2,876.6 L311.6,881.2 L316.3,822.7 L315.6,850.9 L316.5,835.7 L316.1,759.1 L317.0,737.4 L313.8,716.4 L316.9,724.7 L316.4,685.8 L316.5,650.0 L317.1,695.2 L315.5,709.6 L320.9,735.7 L321.7,775.5 L322.4,784.7 L321.5,812.0 L324.0,758.2 L320.7,743.7 L323.7,736.1 L326.9,691.2 L326.2,645.4 L326.5,640.0 L327.8,648.7 L326.7,664.0 L332.3,676.6 L328.8,675.4 L332.5,700.0 L333.5,660.1 L332.3,689.3 L336.5,670.9 L337.5,628.0 L338.0,628.1 L340.8,664.6 L339.3,723.6 L341.5,751.0 L344.8,705.1 L343.6,716.2 L346.6,660.8 L346.5,640.0 L345.5,678.7 L348.5,656.1 L348.3,689.9 L352.2,706.0 L351.9,642.6 L356.3,638.8 L353.5,627.5 L357.5,590.0 L358.5,590.0 L362.4,599.4 L363.4,594.1 L361.8,600.0 L363.5,600.0 L364.2,627.7 L366.8,611.6 L368.7,623.5 L371.2,678.2 L370.5,679.0 L370.0,657.1 L375.2,673.2 L374.8,659.5 L374.7,617.4 L375.8,566.0 L378.0,566.0 L378.4,595.9 L380.8,613.5 L384.8,618.9 L383.5,640.0 L384.8,613.2 L388.9,595.7 L386.6,601.4 L389.5,570.8 L388.6,572.4 L391.7,564.0 L392.3,564.0 L394.2,612.2 L397.6,650.0 L396.5,650.0 L398.7,703.0 L398.3,698.1 L398.4,716.3 L401.6,711.0 L398.5,758.7 L401.5,800.0 L404.0,813.5 L403.2,827.1 L403.3,851.9 L406.5,860.0 L408.0,802.0 L410.7,812.2 L411.1,779.3 L410.5,760.0 L408.8,760.0 L410.9,828.2 L411.4,815.6 L414.5,880.0 L414.5,846.9 L418.3,834.0 L414.7,791.4 L414.4,783.8 L417.0,741.6 L416.9,719.1 L419.5,700.0 L421.6,719.1 L425.1,745.4 L424.7,742.7 L425.2,766.0 L425.0,734.6 L428.8,743.8 L430.3,720.6 L427.2,690.8 L429.1,600.0 L431.5,600.0 L433.8,596.9 L434.4,595.1 L433.1,597.7 L434.8,594.1 L438.5,590.0 L440.9,594.1 L440.5,636.3 L444.4,629.3 L441.3,647.7 L445.0,677.0 L443.6,628.1 L445.5,643.9 L447.5,626.0 L450.5,560.0 L452.3,567.9 L452.5,585.0 L453.9,590.1 L454.5,608.9 L457.2,655.0 L457.0,655.0 L460.0,585.5 L458.6,612.5 L461.7,546.2 L461.5,530.0 L463.3,530.0 L462.0,504.5 L466.3,515.4 L467.7,510.2 L467.5,492.0 L467.3,515.6 L471.3,581.6 L472.5,583.1 L471.8,595.1 L474.0,639.5 L477.2,673.5 L476.7,689.5 L477.6,689.5 L481.2,650.6 L482.3,635.1 L481.4,594.2 L484.8,615.1 L482.1,630.6 L486.3,593.3 L488.7,538.8 L490.2,556.6 L489.3,523.7 L490.5,522.7 L492.2,532.4 L493.0,566.6 L494.1,562.1 L497.6,584.2 L496.4,609.8 L496.2,610.7 L497.8,687.8 L500.6,693.6 L500.2,703.5 L502.5,703.5 L504.7,703.5 L506.1,684.9 L505.9,685.3 L505.8,667.3 L509.7,611.0 L512.3,632.6 L512.8,607.6 L513.7,632.7 L513.5,600.0 L513.6,609.7 L514.5,600.0 L514.8,605.1 L515.4,602.4 L518.7,625.9 L520.4,620.7 L523.7,626.7 L523.3,620.6 L523.6,620.2 L525.5,629.0 L526.0,596.7 L528.5,581.2 L528.3,565.2 L527.7,589.2 L529.3,512.0 L533.8,549.3 L534.5,512.0 L537.2,537.5 L539.0,523.3 L538.4,535.8 L541.3,588.1 L540.6,566.5 L540.8,564.5 L545.7,659.2 L546.2,640.4 L545.0,675.8 L546.9,679.0 L548.3,679.0 L549.7,641.9 L552.0,649.3 L549.5,637.7 L556.1,616.3 L557.8,600.3 L558.0,568.2 L559.1,530.0 L558.9,530.0 L561.7,538.6 L562.3,541.5 L564.1,586.2 L567.0,582.8 L563.1,559.6 L569.4,600.7 L567.4,616.4 L569.5,620.0 L570.5,620.0 L571.8,629.6 L571.8,640.3 L573.1,656.0 L574.7,629.9 L574.8,668.5 L580.6,647.1 L581.0,656.0 L581.8,656.1 L581.7,671.5 L581.7,644.5 L586.9,661.6 L586.9,665.6 L589.5,648.2 L585.7,605.9 L588.5,613.8 L590.3,564.6 L591.5,560.0 L590.5,526.5 L594.9,520.8 L598.4,531.9 L599.3,519.2 L598.5,492.0 L600.5,509.7 L598.8,521.1 L603.7,492.0 L605.1,514.2 L601.6,546.9 L605.5,566.3 L605.6,538.5 L607.5,571.4 L608.4,605.4 L610.7,607.6 L612.8,593.7 L611.3,600.8 L613.3,560.0 L616.5,560.0 L616.3,567.7 L617.4,575.3 L620.3,613.5 L620.9,675.2 L621.2,667.0 L624.4,714.0 L624.1,673.1 L629.0,661.1 L626.2,655.4 L626.5,571.9 L629.7,581.5 L631.5,560.0 L631.2,565.3 L634.9,560.3 L635.3,569.8 L634.1,580.4 L638.0,566.5 L641.7,578.0 L640.5,584.7 L642.0,584.7 L642.5,584.7 L644.1,556.3 L644.2,548.1 L643.2,521.7 L648.7,566.8 L647.4,546.9 L647.9,507.9 L653.1,511.3 L654.5,510.4 L654.2,468.7 L654.8,468.0 L656.2,470.5 L657.6,482.0 L657.8,539.8 L661.3,546.2 L660.7,580.1 L661.4,573.2 L665.7,646.1 L665.2,650.0 L668.0,617.8 L666.1,632.3 L670.3,556.6 L673.1,534.7 L673.1,515.0 L671.8,513.9 L674.3,477.0 L675.0,504.5 L674.6,477.0 L678.8,506.1 L681.3,501.9 L682.6,512.6 L680.3,503.8 L682.7,525.5 L683.6,552.8 L685.9,598.5 L686.4,592.2 L688.0,598.5 L689.3,598.5 L692.4,593.3 L691.5,576.0 L695.6,536.4 L696.2,568.5 L695.3,511.8 L695.4,557.6 L698.4,541.2 L698.8,481.3 L701.5,472.5 L700.6,492.8 L703.3,472.5 L705.4,474.5 L705.9,474.3 L707.4,529.1 L710.7,484.2 L709.9,545.7 L711.2,522.6 L709.7,538.0 L710.5,526.8 L713.2,546.7 L715.9,584.5 L716.9,589.3 L719.8,579.4 L718.9,540.7 L720.4,526.0 L720.0,520.0 L723.5,520.0 L724.3,520.0 L724.7,547.8 L725.6,555.0 L728.3,543.2 L729.4,542.1 L732.3,571.4 L732.2,577.0 L735.2,523.6 L735.3,533.3 L738.3,480.0 L737.5,480.0 L739.1,484.7 L742.7,512.1 L744.5,530.6 L743.8,527.6 L744.3,555.0 L745.6,532.4 L747.2,510.8 L749.0,458.6 L749.3,409.6 L749.4,414.5 L752.0,390.0 L753.8,389.1 L753.4,380.9 L756.2,377.0 L755.2,375.7 L757.8,380.8 L761.9,373.5 L761.1,373.5 L762.2,373.5 L762.3,373.6 L764.1,373.5 L765.8,394.3 L767.8,425.9 L765.7,420.5 L768.4,441.4 L770.3,493.8 L769.8,491.6 L772.0,534.3 L774.8,551.3 L777.5,534.9 L775.9,522.1 L779.5,500.0 L783.6,510.7 L783.5,516.8 L783.9,549.0 L785.7,527.1 L784.2,504.4 L784.7,499.1 L790.8,504.1 L790.4,450.5 L791.5,439.6 L794.9,449.5 L792.8,439.6 L797.0,462.9 L796.1,485.6 L798.5,469.3 L799.1,494.0 L798.8,496.6 L801.6,505.9 L801.9,502.3 L803.2,511.8 L808.1,513.7 L807.5,520.0 L807.8,539.0 L812.8,562.7 L812.8,612.4 L814.6,635.7 L814.2,633.7 L815.9,642.6 L818.2,596.3 L821.2,606.5 L822.0,556.1 L823.6,523.6 L820.2,555.6 L823.5,500.0 L826.8,476.3 L827.1,500.0 L824.4,428.8 L831.3,422.4 L829.5,448.3 L832.9,424.4 L832.5,396.4 L834.9,403.8 L834.2,413.7 L834.2,407.2 L834.7,466.4 L836.8,482.4 L837.8,516.1 L839.9,486.4 L844.4,534.7 L844.9,561.3 L845.2,568.8 L846.3,577.0 L846.4,549.0 L848.4,567.4 L847.6,531.3 L849.1,487.2 L854.2,467.1 L855.1,447.2 L855.0,421.0 L856.7,421.0 L858.0,430.4 L860.1,430.1 L862.3,491.6 L861.7,434.1 L863.5,474.0 L865.7,465.1 L868.2,506.7 L866.3,486.1 L870.0,539.2 L867.9,570.0 L871.3,558.5 L871.9,580.0 L872.3,561.5 L876.3,580.0 L876.1,524.4 L875.4,558.7 L880.7,542.6 L880.7,512.6 L881.2,492.9 L881.1,468.6 L883.5,450.0 L885.4,442.9 L887.0,430.2 L889.2,418.8 L886.2,427.1 L888.6,420.9 L888.9,364.9 L892.6,371.8 L892.2,364.6 L894.6,375.0 L896.3,355.3 L896.3,379.9 L897.8,386.1 L900.8,404.7 L898.7,407.1 L901.6,418.5 L903.5,420.0 L906.4,453.6 L903.3,427.9 L910.3,497.9 L908.4,528.4 L908.0,534.5 L911.5,534.5 L913.1,507.9 L915.8,513.9 L914.9,490.5 L915.3,508.3 L917.5,480.0 L919.3,490.0 L918.1,534.7 L920.7,532.9 L921.2,532.6 L923.7,551.3 L925.3,528.9 L926.3,501.8 L929.7,502.1 L928.2,475.6 L928.7,479.7 L931.5,430.0 L934.1,411.7 L932.1,408.2 L934.2,405.8 L938.4,398.1 L935.3,388.8 L941.4,379.0 L939.1,382.9 L943.3,391.0 L943.4,374.0 L943.5,367.5 L944.3,371.4 L944.6,407.0 L945.6,398.5 L950.8,414.0 L947.8,476.0 L952.7,455.4 L953.0,501.0 L954.1,501.0 L954.1,518.6 L958.5,533.4 L956.2,526.3 L959.8,519.2 L958.0,554.7 L961.5,560.0 L964.3,549.9 L962.0,508.8 L964.8,496.4 L968.6,508.3 L965.8,475.2 L965.9,525.1 L969.4,468.6 L970.4,461.8 L972.4,461.8 L974.0,459.5 L975.6,456.3 L973.2,452.7 L977.7,449.8 L978.0,429.9 L981.9,426.2 L978.8,423.3 L983.4,435.6 L983.9,429.4 L984.5,418.0 L985.7,435.8 L987.5,463.9 L987.1,516.2 L986.8,525.9 L993.6,498.0 L992.3,524.4 L994.5,602.2 L996.0,587.1 L998.8,650.0 L995.5,606.0 L997.2,638.9 L1001.0,684.0 L1001.3,694.4 L1000.6,687.4 L1005.0,686.6 L1004.9,691.8 L1008.9,687.2 L1005.9,687.3 L1008.9,680.0 L1011.6,666.9 L1010.7,654.0 L1012.2,562.7 L1013.5,560.0 L1014.4,548.2 L1017.5,550.0 L1018.1,534.0 L1019.8,519.3 L1017.5,451.0 L1023.2,446.3 L1023.8,441.6 L1024.4,410.6 L1024.1,376.5 L1026.5,388.4 L1029.5,391.0 L1029.8,392.3 L1026.9,384.3 L1030.5,395.0 L1030.5,395.0 L1031.0,383.8 L1031.7,386.5 L1034.8,385.1 L1037.2,376.5 L1039.6,397.8 L1039.3,411.0 L1042.7,420.8 L1040.6,441.2 L1045.6,393.0 L1041.9,457.1 L1046.3,462.6 L1049.3,452.4 L1046.1,459.5 L1048.4,477.1 L1051.5,533.5 L1051.4,494.5 L1053.7,512.6 L1054.3,540.0 L1053.0,589.5 L1053.8,593.3 L1057.4,601.7 L1055.1,687.2 L1056.1,676.1 L1057.5,700.0 L1058.8,647.8 L1060.0,626.5 L1059.5,620.0 L1058.5,658.4 L1058.6,677.8 L1059.3,717.4 L1061.9,736.1 L1059.7,751.4 L1060.9,797.0 L1062.0,809.7 L1062.5,820.0 L1064.2,785.9 L1065.1,746.7 L1065.4,725.6 L1064.5,700.0 L1066.6,736.1 L1064.4,743.5 L1065.7,818.4 L1067.2,794.8 L1069.1,805.9 L1067.6,873.1 L1068.3,866.8 L1067.5,903.5 L1069.7,903.5 L1066.1,876.8 L1071.1,830.4 L1069.5,780.0 L1067.6,806.9 L1069.0,840.9 L1073.5,830.5 L1071.5,895.0 L1072.6,891.7 L1073.3,862.1 L1070.4,810.8 L1073.1,771.9 L1073.5,760.0 L1072.9,793.5 L1073.6,786.2 L1077.5,819.4 L1075.5,870.0 L1075.4,823.7 L1074.7,816.9 L1076.8,784.6 L1079.5,718.3 L1075.6,730.8 L1077.5,700.0 L1076.2,760.4 L1078.2,771.3 L1078.0,757.4 L1078.4,802.7 L1079.5,830.0 L1079.5,785.4 L1081.3,767.9 L1077.8,719.3 L1078.2,745.0 L1081.4,696.8 L1081.5,660.0 L1081.2,660.0 L1084.7,654.0 L1084.7,654.0 L1087.9,615.7 L1088.8,600.9 L1087.3,628.9 L1090.3,627.9 L1089.0,631.5 L1093.9,556.3 L1093.8,560.1 L1094.8,592.4 L1095.7,549.4 L1098.0,549.4 L1101.0,574.1 L1100.7,608.2 L1100.2,598.3 L1103.7,635.0 L1103.6,608.9 L1105.7,632.0 L1108.3,571.1 L1105.9,577.8 L1112.1,588.3 L1111.3,553.0 L1113.8,557.5 L1114.7,584.1 L1116.3,618.2 L1114.0,617.4 L1116.9,665.7 L1120.0,652.6 L1121.6,684.7 L1120.9,692.0 L1122.8,703.9 L1121.1,696.5 L1123.4,728.2 L1124.3,761.6 L1126.9,802.6 L1128.5,802.6 L1131.6,766.8 L1132.7,771.2 L1133.7,753.0 L1136.3,673.0 L1136.6,633.0 L1136.1,633.0 L1136.2,655.7 L1137.1,685.7 L1140.4,745.9 L1137.8,763.7 L1137.6,765.0 L1139.1,811.8 L1141.8,825.0 L1140.7,844.7 L1146.2,906.5 L1146.7,891.4 L1145.5,934.0 L1147.3,888.7 L1147.1,858.1 L1147.5,859.8 L1149.9,796.8 L1153.3,819.6 L1149.9,752.4 L1151.1,715.9 L1153.2,711.0 L1153.5,711.0 L1153.6,716.7 L1156.0,716.9 L1158.5,712.4 L1159.7,716.6 L1161.6,715.1 L1162.7,720.0 L1162.3,717.8 L1165.5,651.0 L1164.8,643.6 L1166.4,680.0 L1169.4,654.0 L1168.5,557.9 L1171.4,541.4 L1169.7,591.6 L1171.3,504.8 L1173.7,506.1 L1176.0,496.0 L1178.9,533.5 L1179.2,549.2 L1181.3,558.7 L1181.5,560.0 L1183.8,533.7 L1184.2,516.6 L1184.3,525.7 L1187.4,494.0 L1190.8,501.7 L1188.0,545.2 L1191.2,574.0 L1191.6,552.3 L1193.8,573.8 L1195.1,562.1 L1199.1,550.1 L1199.7,512.1 L1197.8,484.5 L1200.7,481.0 L1200.2,505.8 L1204.1,515.7 L1207.2,559.9 L1208.3,530.7 L1208.2,574.3 L1210.3,591.1 L1210.2,612.0 L1209.2,588.0 L1213.7,603.7 L1211.7,582.1 L1216.0,535.5 L1217.3,551.2 L1217.8,525.0 L1219.6,545.9 L1220.1,530.3 L1223.0,558.5 L1224.2,590.5 L1226.6,621.6 L1222.7,651.3 L1226.0,649.7 L1227.9,632.8 L1229.2,669.0 L1231.7,681.4 L1230.0,669.0 L1235.9,690.4 L1231.9,676.6 L1236.3,700.7 L1235.7,705.0 L1238.2,705.0 L1240.9,681.3 L1240.0,648.9 L1243.6,597.3 L1242.5,608.3 L1244.3,588.7 L1246.7,586.2 L1245.9,588.7 L1247.3,573.2 L1250.9,578.2 L1252.3,561.8 L1252.0,546.8 L1254.1,521.5 L1254.4,522.8 L1254.9,518.0 L1256.5,518.0 L1258.8,538.4 L1259.5,552.0 L1259.9,571.8 L1262.8,596.6 L1262.4,610.0 L1264.7,589.6 L1268.1,597.9 L1265.5,640.3 L1265.7,665.4 L1271.7,713.8 L1270.7,718.6 L1271.7,720.0 L1272.3,725.6 L1272.4,722.2 L1278.2,723.0 L1277.2,727.7 L1279.1,727.3 L1279.4,729.2 L1280.9,729.5 L1280.9,708.0 L1284.2,681.7 L1283.3,640.2 L1283.7,667.5 L1289.0,593.7 L1287.1,565.4 L1289.0,610.5 L1292.4,580.5 L1290.7,499.2 L1292.7,528.3 L1294.5,487.7 L1297.6,508.7 L1300.0,507.8 L1299.2,580.0 L1300.5,551.7 L1300.4,648.2 L1300.9,622.4 L1303.7,674.0 L1304.6,674.0 L1303.7,679.0 L1307.0,675.1 L1309.1,675.7 L1308.4,678.0 L1311.6,679.0 L1312.8,679.0 L1315.0,646.0 L1312.3,641.7 L1315.1,640.9 L1313.7,561.4 L1314.3,512.3 L1315.5,505.1 L1317.6,538.5 L1317.0,449.0 L1316.9,441.8 L1318.9,419.0 L1320.2,423.8 L1321.0,441.7 L1323.8,440.8 L1324.4,431.5 L1323.7,445.2 L1326.5,451.8 L1329.1,456.0 L1330.3,475.4 L1326.9,517.5 L1331.4,593.9 L1333.4,572.0 L1331.8,623.4 L1334.7,649.9 L1335.6,629.4 L1336.1,710.8 L1337.8,721.8 L1337.2,734.0 L1338.2,720.4 L1340.7,685.3 L1338.2,665.6 L1340.4,591.2 L1341.2,629.3 L1346.0,560.5 L1343.9,518.0 L1343.6,502.4 L1346.5,516.4 L1347.9,464.5 L1350.8,425.4 L1350.9,417.7 L1351.0,426.2 L1351.8,482.6 L1352.4,493.3 L1353.1,522.9 L1352.1,539.0 L1355.9,526.5 L1359.7,619.7 L1357.7,643.4 L1359.2,652.5 L1360.7,678.1 L1360.0,692.8 L1360.9,660.1 L1360.9,657.3 L1365.3,582.6 L1366.6,546.4 L1363.3,596.5 L1365.1,556.6 L1370.3,489.1 L1370.0,515.2 L1372.4,450.5 L1373.2,435.1 L1369.6,416.9 L1373.6,389.3 L1373.7,350.7 L1374.9,391.6 L1377.0,375.3 L1374.7,422.5 L1375.4,429.3 L1375.5,506.8 L1376.0,541.4 L1378.2,550.6 L1378.7,558.8 L1379.5,617.3 L1383.1,606.4 L1381.8,631.6 L1386.0,648.6 L1383.7,671.9 L1385.9,712.6 L1388.8,712.6 L1388.4,693.1 M1606.0,640.1 L1603.4,673.4 L1607.2,715.0 L1609.0,688.0 L1609.3,662.6 L1612.3,651.7 L1610.3,623.6 L1613.4,670.4 L1617.4,601.1 L1615.2,609.3 L1616.9,627.3 L1618.3,621.2 L1619.5,558.1 L1619.3,594.4 L1622.2,562.3 L1622.4,549.9 L1624.6,515.1 L1625.4,512.0 L1626.6,550.7 L1629.8,522.4 L1630.5,574.0 L1632.5,557.6 L1634.4,600.5 L1630.6,610.9 L1635.6,641.3 L1636.1,671.0 L1638.5,670.0 L1639.0,637.6 L1638.1,616.8 L1641.7,606.2 L1642.8,651.8 L1645.8,624.1 L1644.9,597.6 L1644.2,616.3 L1645.6,598.0 L1648.2,581.8 L1647.9,588.5 L1648.9,602.1 L1651.6,597.1 L1654.4,624.2 L1654.5,640.0 L1656.3,619.4 L1656.9,608.7 L1660.7,600.5 L1659.3,609.9 L1662.0,595.5 L1661.9,595.5 L1662.8,611.6 L1665.0,660.6 L1662.3,663.9 L1664.2,739.7 L1667.3,685.2 L1665.1,781.6 L1669.5,737.0 L1668.0,807.5 L1672.0,807.1 L1669.9,815.8 L1673.4,870.1 L1671.9,896.6 L1674.1,930.0 L1675.4,914.9 L1676.7,854.9 L1675.6,863.2 L1677.1,834.3 L1680.6,827.0 L1676.2,763.0 L1680.0,739.4 L1678.1,704.6 L1682.9,676.5 L1680.0,687.9 L1681.7,640.0 L1683.2,623.0 L1685.9,623.0 L1686.2,635.4 L1684.6,654.7 L1689.6,645.0 L1689.7,697.2 L1690.4,687.2 L1692.4,715.0 L1692.6,699.5 L1697.0,689.4 L1699.0,640.0 L1700.6,652.2 L1696.4,675.4 L1698.9,634.4 L1703.2,610.4 L1703.0,588.0 L1704.7,612.4 L1703.7,653.8 L1705.3,661.4 L1709.3,692.8 L1709.3,690.6 L1709.4,747.7 L1710.5,799.8 L1711.0,815.6 L1713.7,827.0 L1713.5,840.6 L1717.3,888.8 L1716.9,853.2 L1721.3,862.8 L1722.7,944.8 L1720.3,936.8 L1723.6,942.7 L1724.3,962.0 L1724.0,933.1 L1724.5,912.2 L1729.2,863.4 L1730.1,868.8 L1730.3,848.6 L1731.6,786.2 L1728.5,750.2 L1730.4,742.5 L1732.2,746.2 L1735.7,674.9 L1736.1,697.7 L1736.5,653.3 L1739.3,703.4 L1740.3,728.3 L1742.5,738.7 L1741.2,714.4 L1743.5,760.0 L1743.8,744.4 L1743.4,738.7 L1746.4,668.5 L1748.7,668.5 L1751.3,668.5 L1753.2,668.5 L1750.0,675.0 L1755.0,675.0 L1757.3,668.5 L1756.0,669.0 L1757.5,672.2 L1759.3,675.0 L1759.5,679.6 L1760.4,731.5 L1763.6,752.8 L1759.6,806.2 L1764.4,821.6 L1762.8,851.0 L1763.9,852.3 L1765.4,852.3 L1766.5,850.4 L1768.9,849.0 L1771.4,849.6 L1767.7,848.2 L1771.3,847.0 L1773.0,847.0 L1775.5,833.3 L1773.4,827.8 L1776.9,797.3 L1779.1,815.7 L1777.6,793.7 L1779.2,775.5 L1781.5,760.0 L1783.7,760.0 L1786.7,800.1 L1783.7,822.7 L1786.0,779.4 L1787.7,818.7 L1786.3,836.3 L1789.5,838.1 L1791.3,874.5 L1790.9,908.0 L1792.7,911.1 L1795.8,958.8 L1797.8,944.9 L1795.2,903.8 L1800.9,915.3 L1796.7,834.0 L1798.6,823.2 L1801.0,787.3 L1802.0,759.8 L1802.0,743.0" fill="none" stroke="#ff0000" stroke-width="11" stroke-linejoin="round" stroke-linecap="round" shape-rendering="crispEdges"/>
<path d="M279.0,1202.0 L278.6,1160.9 L277.5,1176.3 L280.8,1132.7 L277.0,1057.8 L280.8,1041.3 L277.9,1048.3 L281.2,1006.2 L281.1,978.2 L281.5,1012.9 L279.2,924.0 L280.9,897.6 L281.0,880.0 L282.3,936.9 L283.9,914.6 L282.9,959.1 L279.6,943.7 L284.6,982.3 L284.5,1065.2 L282.4,1083.4 L283.0,1100.0 L283.6,1075.6 L283.1,1087.0 L284.3,1069.6 L283.9,1036.6 L283.1,994.9 L282.6,949.4 L282.1,879.1 L284.6,909.7 L285.0,870.0 L286.9,935.4 L288.2,908.4 L287.2,958.9 L284.3,964.8 L286.0,1000.0 L284.9,949.1 L284.0,959.1 L288.4,864.6 L286.2,847.7 L287.3,867.4 L289.2,843.0 L287.2,835.1 L287.0,790.0 L287.6,829.6 L286.6,900.8 L289.1,896.3 L288.4,856.6 L290.0,930.0 L291.6,930.0 L289.4,814.8 L293.0,785.7 L288.7,768.7 L291.4,828.8 L292.0,757.0 L290.3,767.6 L292.4,801.2 L290.8,845.6 L292.9,836.5 L295.0,900.0 L294.4,866.1 L294.5,857.4 L299.0,864.3 L295.1,760.0 L297.0,760.0 L298.5,793.0 L296.0,764.3 L299.3,838.5 L300.9,919.0 L296.5,933.9 L300.0,955.0 L300.0,955.0 L299.5,900.7 L300.1,917.3 L302.8,873.0 L301.6,892.3 L301.1,863.4 L302.6,859.7 L299.9,827.6 L302.9,780.1 L303.0,728.0 L302.5,727.7 L304.2,715.6 L303.9,700.0 L308.0,700.0 L310.6,700.0 L309.6,634.3 L312.6,632.0 L316.2,663.6 L316.0,700.0 L320.1,633.9 L317.1,678.7 L320.0,607.0 L320.5,627.7 L320.0,644.5 L324.3,645.2 L325.0,660.0 L327.6,650.3 L326.4,647.7 L329.4,611.0 L329.4,611.0 L333.2,671.5 L332.3,714.3 L330.0,768.0 L331.5,720.4 L332.4,768.0 L334.4,728.6 L332.9,768.0 L337.3,706.6 L339.9,682.5 L340.5,683.3 L340.0,641.0 L339.7,641.0 L345.0,657.7 L344.6,714.0 L343.7,714.0 L348.5,702.5 L347.0,693.7 L348.1,648.0 L352.0,577.0 L352.2,577.0 L354.7,577.0 L354.7,586.1 L356.0,600.0 L355.9,600.0 L357.8,574.4 L359.8,552.0 L361.3,552.0 L364.4,552.0 L362.7,619.9 L364.5,663.0 L366.8,663.0 L369.3,658.1 L366.6,608.6 L373.6,644.9 L370.4,577.0 L373.5,577.0 L374.9,596.5 L378.1,685.7 L374.7,711.1 L376.8,690.7 L376.1,680.6 L379.0,730.0 L379.3,669.0 L379.0,625.0 L382.9,591.7 L381.9,616.5 L384.2,589.0 L385.0,589.0 L389.3,589.0 L388.9,589.0 L389.3,589.0 L392.0,589.0 L388.6,652.9 L389.3,635.3 L390.8,651.1 L392.4,739.0 L393.3,739.0 L394.0,743.4 L397.0,767.1 L395.5,774.0 L397.9,842.0 L397.5,853.1 L399.0,907.3 L402.4,914.0 L401.3,861.6 L404.6,872.8 L407.0,815.0 L406.8,834.2 L409.0,820.2 L411.6,853.0 L414.0,849.5 L415.5,778.5 L414.4,714.9 L414.8,711.0 L417.9,686.5 L417.0,683.0 L420.8,688.4 L419.2,692.5 L422.1,742.2 L422.2,768.0 L423.3,727.2 L423.2,661.0 L423.1,710.1 L425.0,651.0 L425.4,587.8 L429.5,624.7 L429.8,571.0 L430.5,573.3 L432.9,590.4 L436.0,600.0 L435.6,593.7 L436.0,600.0 L436.2,592.3 L439.7,578.4 L440.4,573.9 L443.1,561.0 L442.0,552.0 L441.3,589.4 L446.9,613.9 L444.7,631.5 L445.5,612.0 L448.0,639.0 L449.3,575.7 L452.4,633.0 L454.2,587.1 L451.9,563.1 L454.3,547.7 L456.3,497.0 L456.9,558.3 L460.4,501.8 L462.7,530.2 L463.5,592.6 L463.4,589.6 L464.6,656.0 L464.2,653.9 L464.9,640.8 L467.5,608.4 L467.3,618.9 L472.0,588.0 L472.0,588.0 L472.7,638.3 L475.2,620.3 L473.9,668.7 L476.0,700.0 L474.9,700.0 L478.0,671.0 L478.0,620.0 L479.8,665.0 L481.8,706.6 L478.9,737.0 L481.0,737.0 L484.4,679.0 L481.3,653.4 L484.0,650.0 L487.8,701.1 L486.1,730.0 L487.0,730.0 L490.9,688.9 L489.8,691.0 L490.0,640.0 L489.2,640.0 L494.4,654.4 L493.0,720.0 L492.0,665.7 L493.0,673.8 L498.2,642.2 L496.5,610.0 L496.8,610.0 L498.5,610.0 L499.4,591.4 L500.6,608.4 L503.8,588.9 L502.7,577.0 L505.7,564.0 L508.9,579.9 L506.6,597.2 L508.7,564.0 L508.1,643.5 L513.3,583.9 L513.3,671.5 L514.0,666.4 L516.3,671.5 L517.5,633.7 L518.6,599.8 L522.7,572.2 L519.1,611.8 L524.8,538.9 L523.1,545.4 L525.4,536.5 L527.5,536.5 L530.0,580.9 L530.7,556.3 L532.4,645.3 L531.5,647.0 L533.0,647.0 L534.9,600.1 L533.1,572.5 L534.6,592.2 L540.2,580.6 L540.8,554.0 L540.7,554.0 L539.9,617.1 L544.5,584.8 L543.2,640.2 L545.0,668.9 L547.1,627.1 L548.3,673.0 L551.2,662.1 L548.2,648.7 L551.0,619.5 L550.9,608.9 L554.4,571.5 L556.9,604.0 L554.1,571.5 L560.7,676.9 L562.1,612.2 L561.0,659.1 L561.5,687.4 L563.5,709.5 L565.3,709.5 L566.7,703.9 L567.3,674.6 L568.9,593.2 L571.0,539.5 L571.0,539.5 L574.5,539.5 L574.7,539.5 L575.0,592.6 L577.5,566.7 L577.2,600.0 L577.4,573.3 L582.5,584.3 L580.5,524.0 L581.0,550.3 L583.3,524.0 L585.0,581.6 L583.7,524.0 L586.7,550.4 L586.2,629.0 L589.4,629.0 L589.2,579.8 L591.4,595.8 L590.9,560.3 L594.2,575.1 L595.5,528.0 L595.0,551.3 L597.4,541.4 L600.6,574.4 L598.7,561.4 L604.4,580.0 L606.0,592.0 L604.0,587.8 L606.0,592.0 L608.2,568.3 L609.2,592.0 L609.7,592.0 L612.2,590.1 L612.8,521.0 L611.7,552.6 L616.6,571.0 L614.4,491.6 L619.4,491.6 L619.6,491.6 L619.8,491.6 L619.1,507.4 L620.9,495.9 L622.8,560.2 L627.5,519.8 L624.2,567.7 L627.4,581.7 L629.5,581.7 L627.7,544.9 L628.6,549.1 L633.5,547.1 L633.5,501.5 L635.9,517.7 L635.9,537.8 L635.1,542.6 L640.2,544.1 L637.7,524.0 L642.9,556.0 L642.6,556.0 L644.3,518.2 L643.4,502.6 L647.4,550.1 L646.4,522.5 L649.8,504.7 L650.3,474.0 L651.5,476.1 L653.2,474.0 L653.6,474.0 L656.1,562.8 L654.1,544.7 L658.3,582.3 L661.4,603.0 L660.3,603.0 L659.4,603.0 L663.4,562.8 L663.7,603.0 L667.0,599.2 L666.2,551.3 L668.2,581.5 L668.1,571.0 L671.7,546.1 L671.3,504.5 L672.0,537.7 L672.6,554.2 L677.8,546.7 L676.6,560.5 L677.4,565.0 L678.8,538.1 L681.1,530.2 L680.3,517.4 L685.1,480.0 L684.0,480.0 L683.9,509.7 L687.4,500.9 L690.1,509.2 L690.0,564.8 L688.1,599.3 L692.8,620.0 L692.6,620.0 L694.3,584.1 L694.2,591.7 L695.3,567.7 L698.0,560.0 L698.9,589.3 L699.0,567.8 L702.7,592.6 L703.3,638.0 L704.2,614.2 L707.2,585.3 L708.0,553.0 L707.0,516.5 L708.5,553.0 L712.8,481.4 L710.9,520.1 L714.0,469.5 L716.4,472.7 L715.1,469.5 L719.6,499.6 L718.3,469.5 L720.3,512.5 L724.2,515.6 L720.7,542.0 L723.1,512.5 L723.6,518.4 L726.0,542.0 L730.5,523.3 L727.3,480.7 L730.7,472.0 L731.2,468.7 L730.9,427.6 L732.3,470.1 L735.4,448.3 L737.3,447.7 L737.3,416.0 L739.8,416.0 L740.2,416.0 L741.3,416.0 L743.7,449.0 L744.3,416.0 L748.7,494.8 L745.2,448.9 L746.3,454.6 L752.3,459.9 L750.8,505.5 L752.9,499.7 L753.5,505.5 L755.6,505.5 L756.7,504.2 L758.6,457.8 L756.8,484.8 L761.0,445.9 L763.3,450.8 L763.5,442.0 L764.2,442.0 L763.7,457.5 L765.9,448.3 L765.5,459.9 L769.5,465.9 L771.1,479.6 L771.8,502.6 L772.9,487.9 L775.7,457.9 L778.2,428.1 L779.4,472.4 L777.1,458.2 L781.8,429.1 L779.9,435.3 L779.7,393.3 L782.8,406.1 L783.1,420.4 L785.5,393.3 L785.4,393.8 L788.1,393.3 L787.2,401.0 L792.0,393.3 L789.6,398.5 L796.0,401.0 L796.6,401.0 L796.0,401.0 L796.6,437.0 L798.9,470.2 L798.9,406.0 L801.9,524.7 L803.5,474.4 L801.6,528.0 L805.9,522.3 L806.0,543.0 L807.6,522.5 L807.3,514.3 L809.2,529.2 L811.3,512.6 L813.6,512.6 L811.8,509.3 L817.4,501.0 L813.8,502.4 L817.6,495.5 L819.0,492.0 L819.6,519.5 L821.4,584.9 L825.0,607.6 L823.5,607.6 L825.4,607.6 L824.0,546.5 L827.2,539.4 L826.2,536.9 L829.2,598.6 L830.9,500.9 L833.4,581.4 L831.0,562.8 L833.5,529.2 L835.4,472.4 L838.6,472.8 L837.9,445.0 L839.8,448.1 L839.4,444.6 L841.8,429.6 L843.7,479.7 L844.3,431.2 L847.9,540.7 L845.3,503.4 L849.6,578.7 L849.1,570.7 L850.7,578.7 L851.0,578.7 L854.6,578.7 L853.6,535.7 L855.0,539.9 L855.5,492.6 L856.1,521.0 L859.1,471.8 L858.3,514.1 L860.6,448.1 L862.0,455.0 L864.4,411.6 L866.1,444.0 L866.4,411.6 L867.9,419.5 L869.1,482.3 L872.9,507.6 L869.5,443.2 L872.0,498.2 L876.2,471.3 L874.5,504.4 L876.5,510.0 L878.0,498.0 L878.6,510.0 L878.4,459.5 L884.3,482.1 L884.6,391.0 L885.9,445.6 L885.7,391.0 L886.2,391.0 L887.7,391.0 L890.7,391.0 L893.3,390.2 L891.5,391.0 L895.5,386.8 L896.5,385.8 L894.1,381.4 L895.6,383.5 L896.3,384.0 L898.5,381.0 L899.6,381.0 L903.9,381.5 L903.3,381.4 L904.0,384.8 L905.4,381.0 L906.9,382.0 L906.9,441.6 L909.0,454.0 L911.2,444.6 L909.7,452.5 L910.2,439.7 L915.0,531.5 L914.3,546.7 L916.9,522.1 L918.0,509.1 L919.1,546.7 L920.1,536.9 L920.1,492.1 L923.6,441.6 L921.8,437.3 L928.0,511.8 L926.9,425.1 L928.3,418.0 L931.1,406.4 L932.4,402.3 L929.2,417.7 L932.9,379.6 L937.0,375.2 L936.4,416.3 L935.3,380.4 L938.7,373.5 L938.2,373.5 L941.9,383.1 L942.0,373.5 L944.7,392.0 L944.2,423.0 L944.1,389.3 L947.1,451.5 L948.3,470.8 L950.9,481.3 L952.3,455.8 L949.4,485.9 L951.2,500.5 L954.6,482.9 L955.1,500.5 L957.2,500.5 L959.6,534.1 L960.3,520.4 L962.7,546.4 L962.6,620.4 L966.4,536.3 L963.4,622.4 L966.4,648.8 L967.9,650.0 L968.6,607.1 L969.5,618.1 L968.9,543.5 L974.1,551.1 L973.4,525.0 L976.0,557.7 L978.4,557.6 L977.6,522.8 L980.5,475.9 L980.0,436.5 L981.1,427.8 L981.2,436.5 L983.8,419.6 L982.9,417.5 L987.6,416.0 L990.0,416.0 L988.1,425.0 L989.3,416.0 L992.9,416.0 L990.9,418.0 L993.7,416.0 L997.4,443.8 L994.8,459.6 L998.7,444.2 L998.2,437.1 L999.8,463.0 L1002.7,449.5 L1004.9,426.5 L1006.1,420.0 L1003.0,432.2 L1008.1,420.6 L1007.4,420.0 L1010.1,420.0 L1008.7,464.8 L1011.3,455.8 L1010.6,481.0 L1014.5,464.9 L1015.0,481.0 L1015.4,453.1 L1018.2,481.0 L1020.9,458.8 L1022.4,419.6 L1023.6,417.8 L1023.7,445.7 L1025.2,425.3 L1025.9,391.2 L1026.5,387.0 L1027.2,387.0 L1030.3,438.0 L1032.2,389.1 L1030.8,444.5 L1032.3,434.6 L1036.6,458.3 L1033.3,508.4 L1036.9,510.0 L1037.9,510.0 L1038.4,523.6 L1040.5,524.2 L1039.3,510.4 L1039.9,537.2 L1043.9,518.0 L1045.6,522.7 L1048.0,523.3 L1048.3,538.4 L1049.0,540.0 L1049.4,577.9 L1050.2,562.8 L1052.8,558.2 L1052.2,620.8 L1056.7,640.3 L1058.8,613.3 L1060.8,620.1 L1058.6,696.5 L1062.0,708.1 L1062.4,670.4 L1065.6,714.6 L1066.5,730.5 L1063.5,697.5 L1066.4,698.6 L1068.0,730.5 L1069.7,681.9 L1069.7,663.0 L1074.6,658.9 L1073.7,654.0 L1072.9,625.8 L1078.2,633.6 L1073.6,603.1 L1075.8,593.3 L1079.9,555.9 L1079.4,502.0 L1078.7,500.0 L1079.7,466.6 L1080.6,485.4 L1085.9,447.0 L1085.4,457.4 L1087.0,426.0 L1089.6,408.0 L1089.5,406.1 L1089.6,384.5 L1093.4,426.0 L1093.7,410.4 L1092.9,378.0 L1093.8,409.3 L1096.7,388.4 L1098.4,378.0 L1098.1,400.6 L1101.2,378.0 L1103.9,394.5 L1101.3,443.4 L1103.3,419.9 L1106.0,443.4 L1106.5,436.8 L1108.0,439.8 L1111.9,432.8 L1109.2,443.4 L1112.8,412.2 L1110.9,418.9 L1116.7,428.1 L1113.9,409.1 L1115.0,418.0 L1119.1,397.0 L1121.5,399.3 L1121.3,397.0 L1120.6,400.7 L1126.0,422.0 L1125.0,449.0 L1124.3,448.8 L1130.4,407.0 L1128.6,426.4 L1128.8,386.0 L1134.0,386.0 L1133.4,414.3 L1134.6,386.0 L1134.4,412.9 L1138.0,391.0 L1139.3,433.6 L1142.6,398.6 L1142.4,422.2 L1141.1,464.0 L1144.0,464.0 L1145.5,479.9 L1147.3,540.3 L1148.7,511.5 L1146.5,538.6 L1150.8,521.9 L1150.9,594.0 L1149.8,563.2 L1151.9,639.0 L1157.6,653.3 L1156.7,684.2 L1158.4,618.4 L1157.8,719.0 L1159.9,719.0 L1161.0,719.0 L1163.8,719.0 L1163.8,647.5 L1163.3,616.0 L1166.9,616.0 L1169.1,598.6 L1171.8,592.6 L1173.5,600.6 L1172.0,600.0 L1173.6,557.0 L1173.4,566.0 L1176.4,557.0 L1180.5,557.0 L1178.4,657.6 L1179.3,597.0 L1182.0,680.8 L1184.9,692.9 L1185.7,680.8 L1188.6,748.5 L1188.8,727.1 L1185.5,743.9 L1192.3,718.8 L1189.1,717.2 L1193.6,763.1 L1193.5,766.6 L1195.3,728.9 L1198.2,766.6 L1198.6,628.3 L1201.7,612.6 L1202.7,657.8 L1199.8,604.3 L1203.0,578.0 L1202.6,541.9 L1208.0,574.0 L1209.1,527.5 L1208.1,487.7 L1209.7,493.7 L1209.8,471.5 L1212.5,471.5 L1214.4,471.5 L1217.9,472.6 L1214.7,475.3 L1218.9,471.5 L1216.9,477.0 L1223.0,475.8 L1220.2,477.0 L1223.0,477.0 L1226.1,492.6 L1222.5,517.7 L1225.3,513.2 L1230.2,530.4 L1229.0,557.4 L1231.9,557.4 L1233.8,557.4 L1235.3,526.0 L1235.8,528.4 L1237.4,492.0 L1239.0,499.8 L1237.0,484.3 L1240.8,492.6 L1239.3,494.3 L1241.3,475.5 L1244.3,482.9 L1245.2,506.4 L1247.5,490.7 L1247.3,501.2 L1247.4,512.6 L1249.6,512.6 L1248.1,430.4 L1252.0,480.8 L1253.3,462.1 L1253.5,414.6 L1255.9,432.9 L1255.1,464.9 L1259.9,472.9 L1258.3,414.6 L1260.3,461.9 L1258.3,505.3 L1264.2,427.6 L1263.5,458.6 L1267.8,453.1 L1264.0,499.2 L1268.0,525.4 L1267.7,504.0 L1270.2,525.4 L1273.1,490.8 L1271.1,478.3 L1271.4,496.4 L1276.1,496.6 L1275.9,478.4 L1277.8,460.0 L1280.4,457.5 L1280.9,460.0 L1279.5,460.0 L1281.4,460.0 L1284.0,457.0 L1282.7,473.9 L1287.0,519.0 L1287.0,542.5 L1288.6,519.0 L1292.5,534.3 L1289.3,519.0 L1295.3,533.4 L1296.6,581.5 L1292.5,566.5 L1295.6,578.8 L1297.2,565.2 L1299.1,586.0 L1300.8,586.0 L1302.5,582.9 L1303.4,561.9 L1305.5,565.1 L1304.7,547.4 L1308.1,515.0 L1308.3,515.0 L1310.6,544.3 L1308.2,532.9 L1310.3,605.7 L1311.0,621.5 L1312.7,563.3 L1318.1,590.1 L1316.9,613.5 L1319.0,668.5 L1320.4,645.4 L1321.6,633.7 L1320.1,541.7 L1322.7,584.2 L1325.0,528.8 L1325.5,528.8 L1329.2,528.8 L1329.5,555.3 L1330.8,599.0 L1331.6,680.0 L1334.1,608.7 L1333.5,655.1 L1335.7,689.8 L1335.6,686.5 L1337.0,616.5 L1339.9,644.7 L1336.1,573.7 L1337.6,502.2 L1340.4,593.4 L1342.7,508.8 L1341.2,482.6 L1343.3,457.3 L1343.4,498.8 L1343.3,490.7 L1349.1,550.4 L1346.0,540.3 L1348.0,567.6 L1352.3,578.9 L1353.1,645.9 L1354.0,662.4 L1355.6,632.9 L1356.0,609.3 L1359.9,541.2 L1361.1,548.1 L1359.7,583.8 L1361.7,531.8 L1365.8,524.5 L1366.3,405.1 L1363.7,409.1 L1365.5,432.3 L1366.8,389.0 L1369.2,364.4 L1370.0,364.4 L1373.1,381.4 L1369.4,388.2 L1371.1,521.6 L1370.6,510.9 L1374.4,546.3 L1376.2,583.4 L1375.9,588.0 L1376.8,603.0 L1378.9,592.2 L1380.1,561.0 L1382.7,516.4 L1379.8,555.9 L1382.1,495.4 L1384.3,462.4 L1386.0,500.2 L1385.1,471.2 L1387.9,494.4 L1390.6,422.3 L1391.1,422.3 L1392.0,422.3 L1394.1,450.5 L1392.9,511.6 L1392.2,508.0 L1394.1,528.1 L1395.4,540.0 L1397.3,624.1 L1397.4,641.5 L1401.3,608.2 L1397.2,635.4 L1400.9,660.5 L1401.0,703.5 L1402.6,673.3 L1404.3,668.7 L1405.4,584.9 L1403.4,562.3 L1403.5,624.3 L1404.3,555.8 L1406.0,474.7 L1403.9,442.9 L1406.5,462.9 L1407.9,462.4 L1408.7,416.0 L1408.9,428.3 L1412.9,512.6 L1410.1,499.8 L1410.9,522.2 L1414.0,497.8 L1414.2,532.2 L1417.2,593.0 L1420.5,604.7 L1422.2,604.0 L1421.7,623.5 L1422.7,575.5 L1426.0,569.2 L1426.1,572.8 L1425.1,497.7 L1429.5,500.1 L1431.4,538.8 L1431.0,490.5 L1432.5,535.0 L1432.9,569.3 L1431.0,525.2 L1434.8,545.2 L1432.2,644.5 L1432.8,621.7 L1437.3,715.4 L1436.9,723.6 L1436.6,727.1 L1437.6,710.8 L1439.1,788.8 L1441.0,765.5 L1440.2,848.0 L1440.2,846.3 L1440.9,886.0 L1440.8,866.7 L1442.5,846.5 L1443.1,834.8 L1446.0,803.9 L1441.2,776.2 L1444.2,681.6 L1446.2,700.2 L1445.7,672.1 L1448.8,605.1 L1450.2,631.2 L1451.0,653.5 L1446.2,597.4 L1449.6,544.2 L1448.0,504.9 L1451.9,520.6 L1450.3,462.1 L1452.2,452.5 L1454.3,501.6 L1452.7,463.7 L1456.7,501.6 L1458.7,587.6 L1458.3,587.6 L1458.9,561.6 L1461.3,571.1 L1461.0,534.8 L1464.0,559.3 L1464.6,563.4 L1463.9,493.6 L1465.6,526.2 L1466.7,550.0 L1468.2,522.0 L1470.4,493.6 L1472.1,539.5 L1473.3,600.3 L1475.5,620.8 L1474.5,579.8 L1473.4,574.7 L1474.4,690.3 L1475.9,660.1 L1478.0,698.7 L1477.8,695.1 L1478.3,657.8 L1479.0,662.4 L1484.8,608.8 L1483.5,591.1 L1483.7,573.0 L1486.3,477.8 L1485.3,519.8 L1487.2,467.7 L1489.6,491.0 L1488.5,493.7 L1488.5,526.2 L1492.6,619.3 L1494.5,617.6 L1494.1,664.6 L1493.3,675.8 L1496.3,675.8 L1496.4,643.0 L1500.0,653.8 L1502.9,668.6 L1501.0,663.6 L1502.5,597.5 L1503.4,523.1 L1502.2,591.0 L1504.3,529.5 L1506.7,519.4 L1508.5,519.4 L1508.2,539.9 L1512.1,587.6 L1513.7,653.4 L1511.5,563.5 L1512.9,694.8 L1516.1,646.9 L1517.6,695.7 L1518.7,695.7 L1519.3,585.7 L1519.8,669.3 L1521.5,610.4 L1523.3,534.7 L1525.2,534.7 L1527.8,558.9 L1529.7,548.3 L1527.4,568.4 L1532.4,628.9 L1529.7,648.0 L1530.7,650.6 L1532.9,714.0 L1535.1,700.9 L1538.1,656.9 L1537.6,586.0 L1538.2,602.6 L1537.2,571.9 L1539.0,543.8 L1542.0,543.8 L1545.3,561.8 L1546.8,543.8 L1544.6,600.3 L1545.3,565.4 L1548.9,639.3 L1548.7,639.3 L1551.0,639.3 L1552.5,577.9 L1553.3,540.4 L1557.4,566.0 L1553.5,559.2 L1557.2,514.0 L1555.9,514.0 L1560.1,515.4 L1563.1,516.1 L1562.2,514.0 L1563.3,516.4 L1565.0,564.6 L1563.4,554.6 L1569.4,543.4 L1565.0,574.4 L1569.2,676.9 L1570.9,662.1 L1570.3,662.7 L1570.1,692.7 L1572.7,761.4 L1574.6,762.5 L1575.5,794.6 L1578.0,783.2 L1576.8,769.9 L1580.0,673.9 L1580.1,664.3 L1579.3,720.5 L1582.1,641.8 L1584.6,629.0 L1586.0,644.8 L1589.8,634.1 L1586.4,685.7 L1591.0,728.4 L1592.9,697.1 L1591.7,755.9 L1594.5,759.6 L1595.3,759.6 L1595.2,697.7 L1598.6,651.1 L1598.8,636.6 L1597.6,655.5 L1604.2,688.5 L1602.1,644.6 L1604.0,578.7 L1603.8,578.7 L1608.3,671.7 L1605.0,587.6 L1607.9,686.1 L1612.3,649.7 L1612.1,700.0 L1613.3,700.0 L1614.3,700.0 L1616.4,651.7 L1615.5,641.3 L1619.0,638.8 L1619.3,598.0 L1620.8,591.2 L1622.0,594.6 L1624.2,593.8 L1624.4,588.9 L1622.9,598.0 L1624.1,593.1 L1630.3,577.0 L1626.7,577.0 L1629.7,587.5 L1632.0,578.2 L1633.0,577.0 L1635.3,586.9 L1637.2,592.3 L1634.5,595.8 L1640.7,632.5 L1637.4,635.6 L1640.6,635.6 L1642.3,652.3 L1644.6,680.4 L1645.2,746.5 L1644.8,755.3 L1649.3,732.1 L1648.7,714.4 L1648.3,781.2 L1652.3,814.1 L1650.4,815.5 L1653.6,800.3 L1655.3,825.0 L1655.9,860.0 L1655.3,854.7 L1659.6,822.7 L1661.5,800.3 L1658.9,776.7 L1663.0,708.9 L1663.5,702.6 L1663.5,744.0 L1663.7,732.8 L1669.2,779.5 L1670.5,726.7 L1669.1,776.1 L1671.0,811.0 L1673.9,774.6 L1674.6,740.2 L1674.9,787.6 L1675.6,719.3 L1675.6,674.6 L1674.9,687.2 L1677.3,686.2 L1680.8,681.5 L1679.0,691.5 L1681.2,695.1 L1685.3,729.8 L1684.8,743.0 L1686.8,702.5 L1688.9,689.6 L1689.2,689.7 L1691.4,706.3 L1691.2,719.0 L1691.3,666.4 L1695.7,639.4 L1695.1,613.9 L1696.8,612.4 L1697.0,609.0 L1697.2,618.6 L1699.6,639.8 L1698.0,628.9 L1699.2,663.3 L1702.0,739.4 L1706.4,745.7 L1707.7,749.3 L1704.4,764.6 L1707.4,783.2 L1709.0,802.0 L1710.1,781.5 L1712.8,802.0 L1710.8,796.9 L1715.5,782.2 L1717.8,713.1 L1718.5,720.0 L1717.4,720.1 L1720.2,725.5 L1720.7,686.8 L1721.3,686.8 L1721.3,686.8 L1720.9,726.1 L1725.1,808.3 L1727.1,759.2 L1726.1,803.9 L1728.9,850.8 L1729.3,844.4 L1733.3,835.7 L1732.8,823.5 L1734.1,839.6 L1732.3,850.8 L1733.8,843.9 L1737.2,812.0 L1739.2,826.7 L1743.0,813.6 L1741.8,829.9 L1742.1,825.0 L1744.0,812.0 L1744.3,812.0 L1747.8,704.2 L1743.6,705.6 L1747.7,686.8 L1747.2,686.8 L1750.1,726.1 L1748.1,695.9 L1749.5,798.7 L1754.2,720.5 L1754.3,759.8 L1755.0,808.0 L1757.0,769.6 L1759.4,756.8 L1755.9,719.9 L1757.2,712.1 L1760.0,689.8 L1762.4,689.8 L1762.3,689.8 L1766.0,706.4 L1768.1,698.7 L1769.1,723.5 L1768.7,798.6 L1770.0,800.0 L1769.6,805.8 L1773.4,845.6 L1772.0,807.2 L1776.0,863.3 L1778.4,864.3 L1780.1,820.5 L1779.2,866.3 L1780.6,867.5 L1782.0,851.0 L1782.0,867.5 L1782.7,763.9 L1785.3,821.4 L1789.9,767.7 L1786.2,763.5 L1789.7,733.3 L1791.3,726.4 L1791.0,787.1 L1794.8,803.5 L1797.0,764.2 L1792.8,807.7 L1799.2,912.8 L1795.8,890.0 L1800.7,867.7 L1801.1,941.9 L1800.4,969.5 L1801.9,950.1 L1800.3,905.8 L1798.4,895.3 L1802.4,845.0 L1800.2,802.9 L1802.0,800.0 M280.5,1202.0 L282.0,1164.5 L279.4,1128.4 L279.5,1109.4 L278.9,1109.2 L283.5,1101.5 L281.7,998.7 L280.2,980.7 L281.6,980.3 L284.4,957.9 L280.8,918.2 L283.7,914.2 L282.5,880.0 L284.2,930.4 L285.5,899.8 L285.5,975.2 L281.8,982.2 L284.7,1042.4 L282.3,1067.5 L285.3,1052.7 L284.5,1100.0 L286.3,1050.2 L285.5,1021.2 L284.1,1016.4 L287.1,969.7 L287.0,1007.5 L287.1,955.2 L286.4,923.8 L285.5,916.1 L286.5,870.0 L289.0,876.2 L286.8,959.7 L288.6,973.6 L285.2,1000.0 L287.5,1000.0 L287.6,995.3 L288.8,943.4 L287.5,931.2 L290.5,877.2 L285.7,895.8 L289.8,834.8 L290.1,836.8 L288.5,790.0 L291.1,799.5 L287.1,862.6 L288.4,849.4 L291.8,871.8 L291.5,930.0 L292.7,889.0 L294.4,836.8 L294.2,860.1 L292.6,823.7 L295.2,766.1 L293.5,757.0 L294.2,760.3 L292.4,782.0 L297.6,859.5 L297.4,868.6 L296.5,900.0 L297.1,897.7 L296.1,867.4 L295.8,786.3 L295.9,760.0 L298.5,760.0 L300.6,802.6 L300.7,778.1 L300.9,867.2 L300.1,871.3 L299.1,915.8 L299.8,942.0 L301.5,955.0 L303.4,906.3 L300.5,873.5 L299.6,841.6 L305.4,822.2 L302.6,845.5 L305.5,761.7 L305.7,777.3 L302.7,753.4 L304.5,728.0 L307.4,710.6 L304.9,706.9 L306.9,704.8 L309.5,700.0 L312.8,666.0 L315.5,653.1 L314.1,632.0 L314.6,645.6 L317.5,700.0 L318.4,694.4 L319.8,655.9 L321.5,607.0 L325.0,616.6 L324.3,625.8 L322.6,649.3 L326.5,660.0 L326.4,628.1 L330.5,611.0 L330.9,611.0 L330.7,642.2 L329.1,656.5 L334.4,681.1 L333.8,676.4 L332.1,754.1 L333.9,768.0 L333.7,733.7 L335.6,731.3 L336.4,673.1 L341.9,661.6 L340.1,669.3 L341.5,641.0 L343.5,664.7 L343.9,714.0 L346.1,714.0 L345.9,662.7 L346.8,626.5 L348.4,654.2 L353.9,651.2 L353.8,577.0 L353.7,577.0 L357.9,588.3 L357.8,585.3 L357.5,600.0 L357.1,581.9 L362.8,566.8 L361.1,563.2 L362.8,552.0 L366.2,607.3 L362.7,638.4 L368.0,663.0 L368.3,663.0 L371.2,663.0 L373.3,653.4 L370.1,620.5 L371.3,603.6 L375.0,577.0 L374.9,592.9 L378.7,610.6 L380.2,686.0 L380.3,689.2 L378.9,680.5 L380.5,730.0 L381.3,722.3 L384.3,673.1 L385.8,621.9 L382.5,634.3 L385.7,589.0 L389.3,589.0 L385.3,589.0 L389.8,589.0 L390.8,589.0 L389.4,589.0 L394.1,608.1 L390.6,703.8 L394.6,694.0 L395.9,686.4 L394.8,739.0 L397.0,781.9 L398.8,789.1 L397.0,838.7 L399.4,842.0 L403.8,852.0 L401.9,889.2 L403.9,914.0 L406.8,911.6 L408.8,865.4 L408.5,815.0 L411.1,838.4 L413.3,853.0 L413.1,853.0 L415.5,845.7 L417.8,757.8 L413.3,790.5 L418.0,758.5 L416.7,711.2 L418.5,683.0 L417.9,706.5 L421.8,719.0 L422.6,759.3 L423.7,768.0 L426.4,762.7 L426.4,746.6 L424.2,662.2 L428.1,662.2 L427.0,584.9 L431.3,626.6 L431.3,571.0 L431.7,585.7 L434.3,580.8 L432.2,585.8 L437.1,593.5 L437.5,600.0 L440.8,585.8 L437.1,597.3 L441.7,568.0 L444.7,558.6 L443.5,552.0 L446.7,558.9 L448.2,577.0 L449.2,579.1 L448.6,639.0 L449.5,639.0 L450.4,602.8 L450.9,560.0 L453.8,569.4 L457.3,541.8 L457.7,502.3 L457.8,497.0 L458.5,546.8 L462.5,512.4 L461.9,596.0 L461.9,639.2 L465.4,644.1 L466.1,656.0 L468.6,640.3 L467.4,613.3 L472.6,621.7 L468.4,624.0 L470.6,604.2 L473.5,588.0 L477.1,607.8 L473.1,626.2 L474.9,700.0 L477.5,700.0 L476.7,678.5 L480.3,672.7 L479.5,620.0 L478.0,672.5 L483.1,667.2 L479.5,691.8 L482.5,737.0 L482.1,730.3 L482.6,684.7 L485.5,650.0 L486.5,654.5 L489.1,711.5 L488.5,730.0 L489.6,727.9 L489.4,682.1 L491.5,640.0 L491.6,689.6 L491.8,666.3 L494.5,720.0 L496.2,666.4 L496.0,638.6 L498.8,624.9 L498.0,610.0 L498.2,598.1 L498.8,589.0 L502.1,596.1 L501.0,590.9 L504.8,588.3 L507.9,582.7 L507.2,564.0 L508.9,564.0 L511.0,573.2 L511.6,576.8 L512.9,637.6 L515.3,616.2 L513.9,671.5 L516.1,639.2 L517.8,671.5 L518.7,646.9 L518.8,671.1 L518.8,576.0 L521.6,592.9 L525.5,574.1 L524.1,545.4 L526.9,536.5 L526.7,579.1 L526.6,558.6 L529.1,600.4 L531.5,629.4 L532.5,647.0 L534.5,647.0 L533.8,645.6 L536.0,606.3 L536.7,594.4 L542.5,571.2 L540.9,554.0 L542.2,554.0 L543.3,599.2 L544.9,589.2 L544.2,583.1 L547.9,650.0 L548.4,636.2 L549.8,673.0 L549.5,673.0 L554.9,654.0 L551.4,615.0 L556.1,590.2 L555.9,571.5 L558.6,600.6 L555.5,611.1 L561.6,590.9 L563.6,653.5 L563.3,699.5 L564.8,695.3 L565.0,709.5 L565.7,660.0 L567.6,664.9 L567.7,596.1 L572.0,565.2 L571.9,547.4 L572.5,539.5 L571.9,539.5 L574.1,542.6 L578.7,591.3 L579.3,589.4 L578.7,600.0 L582.2,592.0 L579.7,553.3 L584.3,541.5 L585.0,559.7 L584.8,524.0 L583.5,573.7 L585.2,540.9 L587.7,574.4 L588.0,601.9 L590.9,629.0 L592.9,610.3 L591.2,611.1 L593.1,603.2 L597.8,543.3 L597.0,528.0 L598.0,528.0 L597.3,537.2 L599.2,530.0 L599.5,560.7 L606.2,553.5 L603.6,575.3 L607.0,592.0 L607.5,592.0 L609.9,577.0 L609.1,547.6 L611.4,592.0 L610.0,526.7 L613.1,577.8 L613.6,564.9 L614.7,534.2 L619.3,543.7 L618.8,536.6 L618.7,510.7 L621.3,491.6 L623.7,512.1 L622.5,537.6 L625.8,505.4 L626.6,568.4 L627.2,551.0 L628.9,581.7 L632.0,552.2 L632.0,560.1 L635.5,546.5 L631.3,540.2 L635.0,501.5 L638.3,501.5 L639.0,511.7 L640.7,519.7 L639.0,543.2 L638.6,550.0 L642.9,534.9 L644.1,556.0 L647.6,556.0 L645.6,501.7 L650.3,493.1 L648.1,495.2 L650.0,484.8 L651.8,474.0 L651.7,486.9 L653.1,474.0 L658.2,477.3 L659.0,491.5 L660.8,515.7 L659.6,514.4 L657.5,573.4 L661.5,572.0 L662.1,600.1 L662.5,591.0 L665.2,603.0 L668.6,596.8 L669.5,589.8 L667.4,571.6 L667.8,568.2 L673.0,519.6 L672.8,504.5 L672.7,525.6 L675.5,519.2 L674.3,535.3 L678.9,544.2 L678.9,565.0 L680.3,545.8 L678.7,507.6 L684.9,539.2 L685.0,496.6 L685.5,480.0 L686.5,510.1 L685.1,486.0 L691.1,560.8 L692.3,523.1 L693.9,539.1 L692.9,600.2 L694.1,620.0 L696.8,620.0 L698.9,591.4 L696.9,572.8 L699.5,560.0 L702.7,596.0 L700.8,605.6 L705.2,638.0 L704.8,638.0 L707.3,589.3 L705.2,586.3 L709.5,553.0 L708.6,545.4 L712.7,530.3 L711.8,526.1 L715.5,490.1 L715.5,469.5 L715.7,469.5 L719.7,488.6 L721.8,487.3 L719.7,525.1 L722.4,498.5 L725.2,521.1 L726.4,504.2 L724.1,526.3 L725.3,531.4 L727.5,542.0 L730.7,507.9 L733.0,488.0 L732.2,472.0 L733.1,469.0 L735.3,451.7 L734.9,452.5 L737.8,419.3 L740.4,424.4 L739.4,435.6 L741.3,416.0 L744.1,419.3 L745.1,447.1 L747.6,423.9 L746.1,454.4 L748.7,440.1 L748.3,483.6 L751.2,489.9 L752.4,466.9 L752.5,469.5 L754.5,497.8 L755.0,505.5 L756.6,505.5 L755.6,467.6 L761.2,487.4 L762.1,452.7 L762.7,466.0 L762.5,442.0 L763.0,463.1 L765.7,442.0 L766.5,442.0 L765.5,461.4 L770.1,452.8 L769.2,459.5 L770.9,484.4 L773.3,502.6 L773.6,502.6 L774.3,491.9 L778.5,502.6 L778.7,440.4 L776.6,457.1 L779.3,471.1 L779.6,448.3 L782.5,420.4 L783.4,426.3 L785.0,393.3 L787.0,393.3 L790.2,393.3 L791.9,393.3 L793.5,396.3 L790.3,397.0 L793.0,394.8 L795.7,394.4 L796.1,396.5 L797.5,401.0 L800.5,421.1 L802.2,430.2 L802.0,454.3 L802.7,501.0 L806.1,528.9 L806.4,498.7 L805.2,506.9 L807.5,543.0 L807.6,543.0 L808.2,539.5 L809.7,519.7 L812.8,512.6 L814.9,512.6 L813.4,501.7 L817.7,511.6 L819.2,501.0 L817.4,492.0 L820.5,492.0 L820.7,547.9 L825.1,569.8 L826.7,607.6 L825.0,607.6 L825.7,607.6 L828.3,599.6 L830.3,565.7 L827.9,554.4 L828.9,555.7 L829.9,574.1 L832.8,507.6 L834.2,479.9 L833.1,497.0 L837.2,453.1 L840.5,460.3 L841.8,432.2 L839.1,431.8 L843.2,441.9 L843.3,429.6 L843.3,457.2 L845.9,479.6 L847.4,455.3 L850.0,540.5 L848.4,521.5 L851.1,552.4 L852.2,578.7 L852.4,544.4 L855.4,523.1 L858.3,542.1 L856.4,497.9 L857.3,544.6 L857.8,498.9 L858.6,496.0 L861.2,484.4 L864.5,453.7 L863.9,414.6 L865.9,411.6 L866.9,411.6 L868.7,426.2 L868.1,415.2 L871.6,439.4 L873.4,446.5 L874.7,472.0 L872.8,498.2 L875.1,507.1 L876.9,510.0 L878.0,510.0 L879.5,510.0 L880.5,442.3 L883.6,422.8 L880.7,470.2 L884.3,446.8 L886.5,416.9 L887.2,391.0 L889.3,389.0 L891.5,385.3 L893.0,388.3 L894.2,384.4 L895.5,384.4 L897.0,390.8 L893.5,389.2 L898.1,381.0 L900.4,389.3 L902.3,387.4 L899.8,381.2 L904.0,381.0 L904.3,381.0 L905.4,383.7 L904.6,381.7 L906.9,381.0 L909.6,412.6 L911.7,384.4 L912.5,436.9 L913.7,474.8 L914.2,452.0 L913.7,433.6 L912.7,481.5 L918.6,527.8 L917.1,513.2 L920.9,513.0 L920.6,546.7 L920.0,505.4 L926.0,497.0 L922.0,452.6 L925.5,455.4 L925.7,476.2 L929.8,430.5 L929.8,418.0 L930.2,408.8 L933.4,418.0 L935.5,418.0 L932.2,408.2 L934.5,383.4 L936.3,403.9 L941.4,373.6 L937.1,381.3 L942.1,389.4 L941.0,373.9 L943.5,373.5 L943.4,394.8 L946.1,410.0 L946.4,439.1 L949.2,448.2 L950.9,411.3 L950.4,427.3 L952.8,424.1 L952.9,451.9 L957.2,431.1 L958.3,464.5 L955.9,477.5 L958.7,500.5 L960.7,545.0 L960.9,560.2 L964.4,514.1 L963.7,611.3 L964.3,558.9 L963.9,648.7 L966.8,624.7 L969.4,650.0 L971.6,640.8 L973.0,607.6 L971.8,626.7 L976.4,567.6 L977.1,508.4 L975.1,504.2 L977.7,470.5 L978.0,487.5 L979.0,459.3 L981.5,436.5 L982.6,436.0 L984.2,425.7 L984.4,433.4 L986.8,429.4 L985.3,426.6 L988.2,416.0 L992.2,427.0 L991.5,422.0 L991.8,422.9 L993.9,422.6 L995.2,416.0 L998.5,420.1 L998.3,426.5 L1001.5,438.3 L997.8,458.8 L1001.3,463.0 L1001.2,461.9 L1004.8,450.7 L1006.8,448.6 L1007.6,436.0 L1008.0,420.0 L1008.9,420.0 L1012.0,434.7 L1009.0,436.0 L1012.2,453.6 L1011.3,463.7 L1015.6,456.2 L1016.5,481.0 L1018.1,480.6 L1019.6,451.7 L1022.2,477.7 L1021.3,466.6 L1021.7,464.4 L1021.6,457.6 L1023.1,387.0 L1028.1,411.9 L1027.6,387.0 L1028.7,387.0 L1029.6,387.0 L1033.0,438.9 L1033.0,456.4 L1035.2,409.2 L1034.7,485.9 L1038.1,510.0 L1036.3,497.6 L1039.4,510.0 L1040.7,510.0 L1042.5,517.4 L1045.1,524.0 L1042.7,528.0 L1045.0,522.4 L1049.4,525.1 L1046.4,525.3 L1048.4,538.1 L1050.5,540.0 L1051.9,546.1 L1054.4,582.8 L1056.2,579.7 L1053.6,580.5 L1058.6,607.8 L1058.4,575.1 L1060.5,598.1 L1062.5,682.5 L1062.7,674.3 L1064.5,697.4 L1063.6,679.6 L1067.1,677.1 L1066.8,681.6 L1068.2,711.6 L1069.5,730.5 L1069.7,708.2 L1074.9,674.0 L1072.8,654.2 L1075.2,654.0 L1074.8,604.8 L1075.7,607.2 L1079.9,548.9 L1079.9,548.0 L1079.3,531.1 L1080.9,502.0 L1080.1,502.0 L1080.7,473.8 L1085.2,479.3 L1088.5,463.7 L1089.0,458.2 L1088.5,426.0 L1091.2,426.0 L1092.3,426.0 L1092.7,404.1 L1094.9,402.1 L1093.5,410.8 L1096.4,389.9 L1098.5,378.0 L1097.7,378.0 L1099.9,378.0 L1102.1,389.7 L1102.7,390.7 L1101.4,397.5 L1104.2,419.1 L1104.2,440.3 L1107.5,443.4 L1107.7,432.7 L1110.3,437.3 L1110.2,443.4 L1114.3,437.8 L1112.6,433.2 L1116.8,431.8 L1116.3,424.6 L1117.9,418.0 L1121.8,421.7 L1122.0,399.2 L1120.3,397.0 L1122.8,397.0 L1122.4,424.1 L1123.7,414.1 L1126.5,449.0 L1126.4,449.0 L1132.2,426.8 L1133.0,400.3 L1133.1,398.1 L1130.4,386.0 L1133.5,388.8 L1136.1,386.0 L1137.4,393.1 L1139.5,386.0 L1141.6,445.8 L1142.0,440.1 L1141.9,422.2 L1143.4,457.8 L1145.5,464.0 L1146.3,477.5 L1148.4,515.6 L1150.6,493.0 L1148.5,534.5 L1153.6,558.0 L1152.2,578.8 L1153.7,553.6 L1152.8,645.8 L1155.2,660.7 L1159.8,666.4 L1159.7,690.3 L1159.7,688.0 L1161.6,708.5 L1162.5,719.0 L1162.7,703.7 L1162.8,634.3 L1166.1,616.0 L1168.4,616.0 L1170.8,609.1 L1173.5,591.0 L1174.7,578.5 L1172.1,591.5 L1174.0,563.0 L1178.4,557.8 L1177.9,557.0 L1179.1,562.0 L1181.7,597.3 L1183.0,673.5 L1183.5,680.8 L1183.5,690.7 L1184.1,696.8 L1188.1,712.8 L1188.1,723.8 L1187.6,734.8 L1194.0,723.3 L1189.9,729.3 L1194.2,761.8 L1195.0,766.6 L1196.6,724.5 L1199.8,753.8 L1200.3,666.7 L1199.6,665.9 L1199.8,650.1 L1202.5,589.4 L1204.5,578.0 L1205.1,578.0 L1208.9,521.7 L1207.0,506.2 L1210.3,547.8 L1212.1,471.5 L1212.2,484.2 L1214.0,471.5 L1216.4,471.5 L1219.4,471.5 L1215.6,476.2 L1220.7,477.0 L1220.0,473.7 L1222.3,477.0 L1224.7,475.4 L1224.5,477.0 L1225.8,500.5 L1224.8,525.3 L1228.3,500.0 L1228.2,557.4 L1230.5,557.4 L1231.0,538.9 L1231.9,521.0 L1236.8,556.0 L1233.8,526.4 L1239.3,513.3 L1239.4,530.9 L1240.1,489.7 L1240.1,485.4 L1242.9,484.5 L1242.8,475.5 L1244.5,479.9 L1243.5,499.1 L1244.4,496.8 L1245.2,510.3 L1248.9,512.6 L1252.4,499.7 L1248.7,447.0 L1251.7,461.4 L1253.0,417.5 L1255.0,414.6 L1256.5,433.3 L1258.0,458.9 L1257.4,441.6 L1258.2,446.3 L1259.7,463.1 L1261.1,490.8 L1266.8,440.9 L1265.5,473.9 L1269.3,474.6 L1265.2,515.3 L1269.2,484.0 L1270.5,525.4 L1271.7,525.4 L1272.4,521.2 L1272.8,501.4 L1275.1,494.7 L1277.3,463.8 L1276.2,478.7 L1279.3,460.0 L1278.2,457.0 L1283.6,460.0 L1285.7,457.0 L1283.4,460.0 L1285.5,457.0 L1286.4,498.0 L1288.5,519.0 L1289.2,519.0 L1289.8,525.1 L1291.8,539.4 L1293.7,542.9 L1291.9,555.4 L1296.1,576.9 L1294.6,545.4 L1299.5,586.0 L1300.5,577.9 L1300.6,586.0 L1304.0,563.5 L1304.4,559.3 L1306.2,558.3 L1304.4,539.0 L1307.0,517.6 L1307.9,523.4 L1309.8,515.0 L1312.8,545.9 L1310.3,528.8 L1316.5,587.9 L1313.1,614.5 L1316.5,583.4 L1316.8,591.2 L1320.1,641.6 L1320.5,668.5 L1322.5,641.5 L1322.4,599.7 L1326.1,551.1 L1324.1,541.3 L1326.5,528.8 L1328.1,571.5 L1327.4,601.2 L1327.9,614.0 L1329.9,637.3 L1334.5,633.1 L1336.3,648.1 L1336.2,677.5 L1337.2,689.8 L1338.2,686.5 L1341.5,674.3 L1339.1,624.7 L1341.9,612.5 L1342.2,592.8 L1342.6,570.7 L1343.0,540.3 L1345.0,472.7 L1344.8,457.3 L1345.2,458.4 L1349.9,533.3 L1350.1,530.1 L1349.4,556.5 L1349.4,611.2 L1354.5,617.9 L1355.7,628.3 L1355.5,662.4 L1356.4,629.0 L1357.3,590.2 L1359.2,617.4 L1361.1,561.1 L1362.5,530.2 L1361.3,529.8 L1362.8,486.6 L1366.8,422.8 L1368.8,476.3 L1366.9,412.5 L1369.6,408.4 L1370.7,364.4 L1371.0,410.1 L1373.9,429.8 L1372.3,463.4 L1375.4,509.2 L1373.1,473.6 L1374.0,544.8 L1376.7,532.2 L1376.3,562.8 L1378.3,603.0 L1379.0,582.0 L1382.1,561.5 L1381.8,523.6 L1383.6,564.1 L1381.8,487.5 L1387.0,537.8 L1386.2,507.3 L1387.9,469.4 L1391.1,455.9 L1390.6,435.2 L1392.4,445.9 L1393.5,422.3 L1393.1,438.0 L1397.4,482.8 L1398.8,516.6 L1398.4,541.7 L1400.1,584.4 L1400.7,595.2 L1396.6,605.6 L1400.0,593.5 L1398.5,622.6 L1400.8,674.5 L1402.5,703.5 L1404.3,656.8 L1406.1,651.2 L1404.4,660.1 L1404.4,578.2 L1407.6,611.7 L1408.3,544.5 L1407.4,543.9 L1410.6,464.5 L1409.8,469.3 L1409.5,427.4 L1410.2,416.0 L1410.0,430.4 L1410.4,508.3 L1413.1,517.7 L1416.2,556.7 L1414.9,514.3 L1418.8,559.6 L1418.7,593.0 L1422.6,599.5 L1423.2,605.6 L1423.2,623.5 L1425.2,577.9 L1428.7,587.0 L1426.0,540.5 L1425.7,569.9 L1432.1,500.8 L1431.2,524.2 L1432.5,490.5 L1432.7,522.7 L1432.1,529.0 L1434.0,605.2 L1436.5,612.2 L1434.6,646.7 L1435.7,674.1 L1438.3,674.6 L1437.1,742.6 L1439.8,711.4 L1438.8,713.8 L1440.1,821.2 L1439.6,783.3 L1441.9,818.0 L1441.2,873.8 L1442.4,886.0 L1442.9,876.8 L1444.6,817.6 L1446.2,789.7 L1446.0,805.9 L1445.4,779.4 L1448.0,766.2 L1445.9,706.3 L1448.7,657.7 L1447.5,686.7 L1447.3,621.7 L1448.5,574.1 L1450.0,598.7 L1452.7,547.6 L1453.0,533.7 L1453.1,526.7 L1451.9,478.3 L1453.7,452.5 L1456.3,452.5 L1456.6,470.5 L1459.4,504.9 L1457.4,575.7 L1459.8,587.6 L1461.2,587.6 L1462.4,559.5 L1461.5,587.6 L1461.9,573.6 L1463.7,515.5 L1469.8,530.9 L1466.7,497.6 L1468.1,514.9 L1469.9,504.9 L1471.9,493.6 L1472.0,493.6 L1475.6,511.2 L1473.4,549.7 L1475.8,554.9 L1477.1,581.8 L1478.7,670.6 L1478.7,690.9 L1479.5,698.7 L1481.8,658.8 L1484.2,650.4 L1481.5,652.3 L1485.6,631.8 L1487.3,593.8 L1486.7,577.1 L1486.0,536.3 L1488.4,510.3 L1488.7,467.7 L1489.5,487.9 L1490.3,531.7 L1490.5,566.1 L1490.7,540.0 L1493.6,600.2 L1493.5,641.6 L1496.1,668.7 L1497.8,675.8 L1500.5,675.8 L1502.1,654.8 L1503.0,637.8 L1499.8,651.9 L1504.8,616.9 L1503.0,599.7 L1505.1,527.3 L1506.9,548.1 L1508.0,527.4 L1510.0,519.4 L1510.1,548.2 L1514.7,602.6 L1513.7,627.0 L1516.1,601.0 L1516.2,684.4 L1516.5,685.9 L1519.1,695.7 L1520.1,643.6 L1523.0,652.5 L1521.1,603.9 L1525.5,618.4 L1526.2,557.1 L1526.7,534.7 L1529.6,556.3 L1530.4,594.5 L1532.2,653.3 L1531.5,651.7 L1530.7,680.4 L1534.1,683.1 L1534.4,714.0 L1535.4,679.4 L1537.9,686.4 L1536.0,655.9 L1537.0,619.9 L1542.2,557.2 L1541.8,575.3 L1543.5,543.8 L1545.9,556.6 L1546.2,543.8 L1545.7,581.9 L1550.5,608.1 L1551.4,610.1 L1552.9,639.3 L1552.5,639.3 L1554.4,639.3 L1555.2,607.1 L1558.2,529.4 L1559.9,573.7 L1558.7,514.0 L1562.4,516.4 L1558.4,514.0 L1559.6,514.0 L1562.5,514.1 L1564.8,516.4 L1566.4,528.1 L1568.1,580.9 L1569.5,629.3 L1568.4,599.3 L1571.3,635.7 L1573.9,646.6 L1573.5,667.8 L1573.9,730.3 L1575.3,761.0 L1577.2,779.7 L1577.0,794.6 L1578.6,759.9 L1577.3,735.3 L1582.1,716.5 L1581.4,689.1 L1581.2,683.2 L1583.3,645.5 L1586.1,629.0 L1588.0,629.0 L1586.4,660.1 L1588.9,647.6 L1590.9,704.1 L1594.9,669.8 L1592.7,746.2 L1595.8,759.6 L1596.8,759.6 L1598.0,709.6 L1601.3,685.7 L1600.3,705.1 L1604.5,632.8 L1601.4,625.5 L1605.8,627.4 L1605.5,578.7 L1606.2,579.5 L1605.4,578.7 L1610.8,653.4 L1609.5,667.4 L1613.8,633.8 L1615.1,664.9 L1614.8,700.0 L1615.9,686.3 L1616.9,626.0 L1620.1,624.4 L1620.6,634.4 L1620.8,598.0 L1623.3,598.0 L1624.7,598.0 L1622.8,586.2 L1625.4,597.6 L1626.2,586.7 L1628.0,585.9 L1631.4,579.7 L1629.7,579.6 L1629.8,584.1 L1634.1,577.0 L1634.5,577.0 L1635.0,588.6 L1635.6,605.7 L1641.2,615.2 L1640.5,612.5 L1639.5,619.7 L1642.1,635.6 L1643.2,662.8 L1646.3,684.2 L1644.1,679.2 L1645.3,669.9 L1646.2,689.7 L1648.9,752.7 L1649.5,731.2 L1653.5,743.2 L1653.2,831.5 L1657.0,838.8 L1655.2,829.1 L1657.4,860.0 L1658.0,815.9 L1657.2,773.5 L1661.7,819.8 L1664.3,722.4 L1664.3,704.4 L1665.0,702.6 L1664.2,744.5 L1665.4,704.0 L1670.8,758.1 L1669.0,769.3 L1669.2,782.5 L1672.5,811.0 L1673.8,748.4 L1672.6,756.7 L1674.3,702.8 L1674.6,725.5 L1677.1,674.6 L1677.9,686.4 L1677.8,702.3 L1678.4,697.2 L1681.2,726.6 L1685.2,711.0 L1686.2,743.0 L1686.3,743.0 L1688.7,730.9 L1687.5,692.1 L1689.6,675.2 L1689.8,685.9 L1690.2,671.6 L1693.0,643.1 L1694.2,626.6 L1695.7,609.0 L1695.8,635.0 L1698.5,609.0 L1698.2,645.7 L1700.2,642.6 L1701.3,630.9 L1703.5,652.0 L1703.4,725.0 L1705.6,685.4 L1706.3,736.3 L1709.7,755.4 L1707.7,791.2 L1710.5,802.0 L1712.6,776.9 L1713.3,752.6 L1716.5,729.4 L1717.2,780.2 L1719.2,737.4 L1717.4,738.7 L1716.3,759.8 L1720.1,736.1 L1722.0,707.2 L1722.8,686.8 L1724.3,686.8 L1723.3,717.0 L1727.9,773.7 L1729.7,771.9 L1730.9,826.4 L1730.4,850.8 L1732.2,850.8 L1733.3,850.8 L1735.3,829.8 L1735.8,850.8 L1738.2,820.3 L1739.0,832.4 L1741.2,829.9 L1740.2,821.6 L1743.6,812.0 L1745.0,830.5 L1742.7,821.6 L1745.5,812.0 L1744.8,812.0 L1745.8,778.7 L1750.2,771.9 L1749.7,704.4 L1748.7,686.8 L1749.7,714.4 L1749.7,692.5 L1750.3,733.6 L1753.1,782.4 L1757.0,808.0 L1756.5,808.0 L1757.1,801.9 L1760.8,793.4 L1759.8,766.8 L1759.6,721.2 L1764.1,716.6 L1763.9,689.8 L1764.6,728.9 L1765.2,719.0 L1769.3,709.3 L1769.0,800.0 L1770.8,768.0 L1771.5,800.0 L1773.1,804.2 L1774.6,818.2 L1775.4,847.1 L1776.3,847.9 L1777.1,825.1 L1778.7,841.1 L1781.7,844.6 L1782.1,867.5 L1781.8,824.4 L1782.8,795.7 L1786.2,786.8 L1787.0,779.2 L1789.2,780.1 L1790.9,788.7 L1791.3,761.6 L1792.8,726.4 L1793.6,752.8 L1794.8,783.9 L1797.9,778.8 L1797.0,874.5 L1800.8,895.9 L1797.1,878.9 L1800.0,880.5 L1799.9,962.9 L1801.9,969.5 L1802.0,950.5 L1802.0,945.2 L1801.0,846.6 L1802.0,891.2 L1801.0,844.1 L1802.0,800.0" fill="none" stroke="#0000ff" stroke-width="11" stroke-linejoin="round" stroke-linecap="round" shape-rendering="crispEdges"/>
<path d="M276.5,1233.6 L279.5,1230.3 L282.5,1227.1 L285.5,1223.8 L288.5,1220.6 L291.5,1217.4 L294.5,1214.2 L297.5,1211.0 L300.5,1207.9 L303.5,1204.7 L306.5,1201.6 L309.5,1198.4 L312.5,1195.3 L315.5,1192.2 L318.5,1189.1 L321.5,1186.0 L324.5,1182.9 L327.5,1179.9 L330.5,1176.8 L333.5,1173.7 L336.5,1170.7 L339.5,1167.7 L342.5,1164.6 L345.5,1161.6 L348.5,1158.6 L351.5,1155.6 L354.5,1152.6 L357.5,1149.6 L360.5,1146.6 L363.5,1143.6 L366.5,1140.6 L369.5,1137.6 L372.5,1134.6 L375.5,1131.6 L378.5,1128.6 L381.5,1125.6 L384.5,1122.7 L387.5,1119.7 L390.5,1116.7 L393.5,1113.7 L396.5,1110.7 L399.5,1107.7 L402.5,1104.7 L405.5,1101.7 L408.5,1098.7 L411.5,1095.7 L414.5,1092.7 L417.5,1089.7 L420.5,1086.7 L423.5,1083.7 L426.5,1080.6 L429.5,1077.6 L432.5,1074.6 L435.5,1071.5 L438.5,1068.5 L441.5,1065.4 L444.5,1062.3 L447.5,1059.2 L450.5,1056.1 L453.5,1053.0 L456.5,1049.9 L459.5,1046.8 L462.5,1043.6 L465.5,1040.5 L468.5,1037.3 L471.5,1034.1 L474.5,1030.9 L477.5,1027.7 L480.5,1024.5 L483.5,1021.2 L486.5,1018.0 L489.5,1014.7 L492.5,1011.4 L495.5,1008.1 L498.5,1004.8 L501.5,1001.4 L504.5,998.1 L507.5,994.7 L510.5,991.3 L513.5,987.9 L516.5,984.4 L519.5,981.0 L522.5,977.5 L525.5,974.0 L528.5,970.5 L531.5,966.9 L534.5,963.3 L537.5,959.7 L540.5,956.1 L543.5,952.5 L546.5,948.8 L549.5,945.1 L552.5,941.4 L555.5,937.6 L558.5,933.9 L561.5,930.1 L564.5,926.3 L567.5,922.6 L570.5,918.8 L573.5,915.0 L576.5,911.2 L579.5,907.4 L582.5,903.6 L585.5,899.9 L588.5,896.1 L591.5,892.4 L594.5,888.6 L597.5,884.9 L600.5,881.2 L603.5,877.5 L606.5,873.8 L609.5,870.1 L612.5,866.4 L615.5,862.7 L618.5,859.0 L621.5,855.3 L624.5,851.6 L627.5,847.9 L630.5,844.2 L633.5,840.5 L636.5,836.7 L639.5,833.0 L642.5,829.3 L645.5,825.5 L648.5,821.8 L651.5,818.0 L654.5,814.2 L657.5,810.4 L660.5,806.6 L663.5,802.7 L666.5,798.9 L669.5,795.0 L672.5,791.1 L675.5,787.2 L678.5,783.2 L681.5,779.2 L684.5,775.2 L687.5,771.2 L690.5,767.1 L693.5,763.1 L696.5,758.9 L699.5,754.8 L702.5,750.6 L705.5,746.4 L708.5,742.2 L711.5,737.9 L714.5,733.6 L717.5,729.3 L720.5,725.0 L723.5,720.6 L726.5,716.3 L729.5,711.9 L732.5,707.5 L735.5,703.1 L738.5,698.6 L741.5,694.2 L744.5,689.7 L747.5,685.2 L750.5,680.8 L753.5,676.3 L756.5,671.8 L759.5,667.3 L762.5,662.8 L765.5,658.3 L768.5,653.8 L771.5,649.3 L774.5,644.8 L777.5,640.2 L780.5,635.7 L783.5,631.2 L786.5,626.7 L789.5,622.2 L792.5,617.7 L795.5,613.2 L798.5,608.7 L801.5,604.2 L804.5,599.7 L807.5,595.2 L810.5,590.6 L813.5,586.1 L816.5,581.6 L819.5,577.1 L822.5,572.6 L825.5,568.0 L828.5,563.5 L831.5,559.0 L834.5,554.4 L837.5,549.9 L840.5,545.3 L843.5,540.8 L846.5,536.2 L849.5,531.6 L852.5,527.1 L855.5,522.5 L858.5,517.9 L861.5,513.3 L864.5,508.7 L867.5,504.1 L870.5,499.5 L873.5,494.9 L876.5,490.3 L879.5,485.7 L882.5,481.1 L885.5,476.4 L888.5,471.8 L891.5,467.1 L894.5,462.4 L897.5,457.8 L900.5,453.1 L903.5,448.4 L906.5,443.7 L909.5,439.0 L912.5,434.3 L915.5,429.5 L918.5,424.8 L921.5,420.1 L924.5,415.3 L927.5,410.5 L930.5,405.7 L933.5,400.9 L936.5,396.1 L939.5,391.3 L942.5,386.5 L945.5,381.7 L948.5,376.8 L951.5,371.9 L954.5,367.1 L957.5,362.2 L960.5,357.3 L963.5,352.3 L966.5,347.4 L969.5,342.5 L972.5,337.5 L975.5,332.5 L978.5,327.5 L981.5,322.5 L984.5,317.6 L987.5,312.6 L990.5,307.6 L993.5,302.6 L996.5,297.6 L999.5,292.6 L1002.5,287.7 L1005.5,282.7 L1008.5,277.8 L1011.5,272.9 L1014.5,268.0 L1017.5,263.2 L1020.5,258.3 L1023.5,253.6 L1026.5,248.8 L1029.5,244.1 L1032.5,239.4 L1035.5,234.8 L1038.5,230.2 L1041.5,225.7 L1044.5,221.2 L1047.5,216.8 L1050.5,212.4 L1053.5,208.1 L1056.5,203.9 L1059.5,199.7 L1062.5,195.7 L1065.5,191.6 L1068.5,187.7 L1071.5,183.8 L1074.5,180.1 L1077.5,176.5 L1080.5,173.0 L1083.5,169.7 L1086.5,166.5 L1089.5,163.6 L1092.5,161.0 L1095.5,158.5 L1098.5,156.4 L1101.5,154.5 L1104.5,152.9 L1107.5,151.6 L1110.5,150.6 L1113.5,149.9 L1116.5,149.6 L1119.5,149.5 L1122.5,149.7 L1125.5,150.3 L1128.5,151.1 L1131.5,152.3 L1134.5,153.8 L1137.5,155.6 L1140.5,157.8 L1143.5,160.3 L1146.5,163.1 L1149.5,166.2 L1152.5,169.5 L1155.5,173.1 L1158.5,177.0 L1161.5,181.0 L1164.5,185.2 L1167.5,189.6 L1170.5,194.0 L1173.5,198.7 L1176.5,203.3 L1179.5,208.1 L1182.5,212.9 L1185.5,217.7 L1188.5,222.6 L1191.5,227.4 L1194.5,232.2 L1197.5,237.0 L1200.5,241.9 L1203.5,246.7 L1206.5,251.6 L1209.5,256.4 L1212.5,261.3 L1215.5,266.1 L1218.5,271.0 L1221.5,275.9 L1224.5,280.8 L1227.5,285.7 L1230.5,290.7 L1233.5,295.6 L1236.5,300.6 L1239.5,305.6 L1242.5,310.7 L1245.5,315.7 L1248.5,320.8 L1251.5,325.9 L1254.5,331.0 L1257.5,336.2 L1260.5,341.4 L1263.5,346.6 L1266.5,351.9 L1269.5,357.2 L1272.5,362.5 L1275.5,367.8 L1278.5,373.1 L1281.5,378.5 L1284.5,383.9 L1287.5,389.3 L1290.5,394.8 L1293.5,400.3 L1296.5,405.7 L1299.5,411.2 L1302.5,416.7 L1305.5,422.3 L1308.5,427.8 L1311.5,433.4 L1314.5,438.9 L1317.5,444.5 L1320.5,450.1 L1323.5,455.7 L1326.5,461.3 L1329.5,467.0 L1332.5,472.6 L1335.5,478.2 L1338.5,483.8 L1341.5,489.5 L1344.5,495.1 L1347.5,500.8 L1350.5,506.4 L1353.5,512.1 L1356.5,517.7 L1359.5,523.3 L1362.5,529.0 L1365.5,534.6 L1368.5,540.2 L1371.5,545.9 L1374.5,551.5 L1377.5,557.1 L1380.5,562.7 L1383.5,568.3 L1386.5,573.9 L1389.5,579.4 L1392.5,585.0 L1395.5,590.5 L1398.5,596.1 L1401.5,601.6 L1404.5,607.1 L1407.5,612.5 L1410.5,618.0 L1413.5,623.4 L1416.5,628.9 L1419.5,634.3 L1422.5,639.6 L1425.5,645.0 L1428.5,650.3 L1431.5,655.7 L1434.5,661.0 L1437.5,666.2 L1440.5,671.5 L1443.5,676.7 L1446.5,682.0 L1449.5,687.2 L1452.5,692.4 L1455.5,697.6 L1458.5,702.7 L1461.5,707.9 L1464.5,713.0 L1467.5,718.1 L1470.5,723.3 L1473.5,728.4 L1476.5,733.4 L1479.5,738.5 L1482.5,743.6 L1485.5,748.6 L1488.5,753.7 L1491.5,758.7 L1494.5,763.7 L1497.5,768.7 L1500.5,773.7 L1503.5,778.7 L1506.5,783.7 L1509.5,788.6 L1512.5,793.6 L1515.5,798.5 L1518.5,803.5 L1521.5,808.4 L1524.5,813.4 L1527.5,818.3 L1530.5,823.2 L1533.5,828.1 L1536.5,833.1 L1539.5,838.0 L1542.5,842.9 L1545.5,847.8 L1548.5,852.7 L1551.5,857.6 L1554.5,862.5 L1557.5,867.4 L1560.5,872.3 L1563.5,877.2 L1566.5,882.1 L1569.5,886.9 L1572.5,891.8 L1575.5,896.7 L1578.5,901.6 L1581.5,906.5 L1584.5,911.4 L1587.5,916.3 L1590.5,921.2 L1593.5,926.1 L1596.5,931.0 L1599.5,935.9 L1602.5,940.8 L1605.5,945.6 L1608.5,950.5 L1611.5,955.3 L1614.5,960.2 L1617.5,965.0 L1620.5,969.8 L1623.5,974.6 L1626.5,979.4 L1629.5,984.2 L1632.5,988.9 L1635.5,993.6 L1638.5,998.3 L1641.5,1003.0 L1644.5,1007.7 L1647.5,1012.3 L1650.5,1016.9 L1653.5,1021.5 L1656.5,1026.0 L1659.5,1030.6 L1662.5,1035.1 L1665.5,1039.5 L1668.5,1044.0 L1671.5,1048.4 L1674.5,1052.7 L1677.5,1057.0 L1680.5,1061.3 L1683.5,1065.6 L1686.5,1069.8 L1689.5,1074.0 L1692.5,1078.1 L1695.5,1082.2 L1698.5,1086.3 L1701.5,1090.3 L1704.5,1094.4 L1707.5,1098.4 L1710.5,1102.4 L1713.5,1106.4 L1716.5,1110.4 L1719.5,1114.4 L1722.5,1118.3 L1725.5,1122.3 L1728.5,1126.3 L1731.5,1130.3 L1734.5,1134.3 L1737.5,1138.3 L1740.5,1142.4 L1743.5,1146.4 L1746.5,1150.5 L1749.5,1154.6 L1752.5,1158.8 L1755.5,1163.0 L1758.5,1167.2 L1761.5,1171.4 L1764.5,1175.7 L1767.5,1180.1 L1770.5,1184.5 L1773.5,1188.9 L1776.5,1193.5 L1779.5,1198.0 L1782.5,1202.7 L1785.5,1207.4 L1788.5,1212.1 L1791.5,1217.0 L1794.5,1221.9 L1797.5,1226.9 L1800.5,1232.0 L1804.0,1238.0" fill="none" stroke="#0fa30f" stroke-width="11.3" stroke-linejoin="round" stroke-linecap="butt" shape-rendering="crispEdges"/>
<rect x="300" y="1212.5" width="1470" height="101" fill="#fff"/>
<rect x="326" y="1257" width="149" height="11" fill="#ff0000"/>
<rect x="807" y="1257" width="148" height="11" fill="#0000ff"/>
<rect x="1287" y="1257" width="149" height="11" fill="#0fa30f"/>
<text x="485" y="1286.5" font-size="71">DOY:203</text>
<text x="964" y="1286.5" font-size="71">DOY:200</text>
<text x="1445" y="1286.5" font-size="71">Elevation</text>
<text x="249" y="96.8" font-size="79" text-anchor="end">55</text>
<text x="249" y="512.3" font-size="79" text-anchor="end">45</text>
<text x="249" y="927.3" font-size="79" text-anchor="end">35</text>
<text x="249" y="1342.8" font-size="79" text-anchor="end">25</text>
<text x="1826.5" y="96.8" font-size="79">90</text>
<text x="1826.5" y="512.3" font-size="79">60</text>
<text x="1826.5" y="927.3" font-size="79">30</text>
<text x="1826.5" y="1342.8" font-size="79">0</text>
<text x="275.5" y="1413.8" font-size="79" text-anchor="middle">0</text>
<text x="612.5" y="1413.8" font-size="79" text-anchor="middle">0.5</text>
<text x="949.5" y="1413.8" font-size="79" text-anchor="middle">1</text>
<text x="1287.0" y="1413.8" font-size="79" text-anchor="middle">1.5</text>
<text x="1624.0" y="1413.8" font-size="79" text-anchor="middle">2</text>
<text x="1615.7" y="1538.7" font-size="61.3" style="font-family:'Noto Sans CJK JP','Liberation Sans',sans-serif">×</text>
<text x="1676.9" y="1532.6" font-size="79">10</text>
<text x="1764.7" y="1493.8" font-size="63">4</text>
<text x="749" y="1511" font-size="119">Epoch (1s)</text>
<text transform="translate(126,1044) rotate(-90)" font-size="118.5">CNR (dB-Hz)</text>
<text transform="translate(2040,1091) rotate(-90)" font-size="118.5">Elevation (deg)</text>
<text transform="translate(1625,178) scale(1,1.032)" x="0" y="0" font-size="88.5">G10</text>
<rect x="932.55" y="1406.70" width="14.85" height="8.10" fill="#fff"/>
<rect x="954.37" y="1406.70" width="14.21" height="8.10" fill="#fff"/>
<rect x="1237.11" y="1406.70" width="14.85" height="8.10" fill="#fff"/>
<rect x="1258.93" y="1406.70" width="14.21" height="8.10" fill="#fff"/>
<rect x="1681.92" y="1525.50" width="14.85" height="8.10" fill="#fff"/>
<rect x="1703.74" y="1525.50" width="14.21" height="8.10" fill="#fff"/>
<rect x="1167.16" y="1500.91" width="21.86" height="11.09" fill="#fff"/>
<rect x="1199.53" y="1500.91" width="20.90" height="11.09" fill="#fff"/>
<rect x="1699.57" y="170.19" width="16.51" height="8.81" fill="#fff"/>
<rect x="1723.90" y="170.19" width="15.80" height="8.81" fill="#fff"/>
</svg></body></html>
